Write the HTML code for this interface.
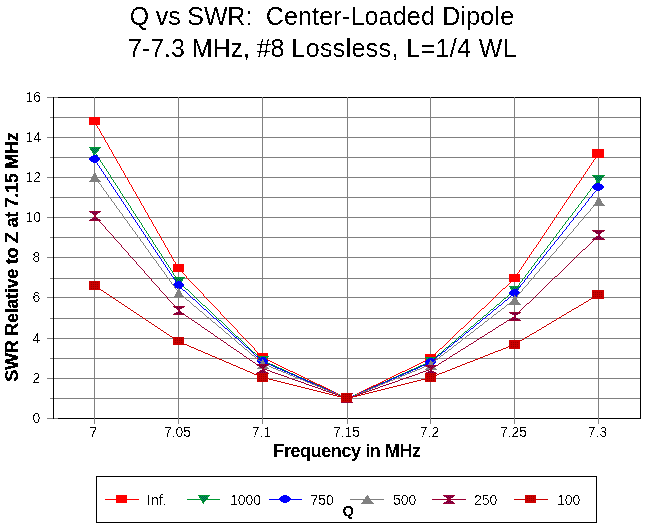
<!DOCTYPE html>
<html><head><meta charset="utf-8"><title>Q vs SWR</title>
<style>
html,body{margin:0;padding:0;background:#fff;}
body{width:645px;height:526px;position:relative;overflow:hidden;font-family:"Liberation Sans",sans-serif;color:#000;}
.t{position:absolute;white-space:pre;line-height:1;filter:url(#th);}
.title{filter:url(#th5);font-size:25px;left:0;width:645px;text-align:center;}
.tick{font-size:14px;filter:url(#th6);}
.xt{width:60px;text-align:center;top:425px;}
.yt{width:30px;text-align:right;left:11px;}
.lg{font-size:14px;top:493px;filter:url(#th6);}
</style></head><body>
<svg width="645" height="526" viewBox="0 0 645 526" shape-rendering="crispEdges" style="position:absolute;left:0;top:0"><defs><filter id="th" x="-5%" y="-25%" width="110%" height="150%" color-interpolation-filters="sRGB"><feComponentTransfer><feFuncA type="discrete" tableValues="0 0 1 1 1"/></feComponentTransfer></filter><filter id="th5" x="-5%" y="-25%" width="110%" height="150%" color-interpolation-filters="sRGB"><feComponentTransfer><feFuncA type="discrete" tableValues="0 1"/></feComponentTransfer></filter><filter id="th6" x="-5%" y="-25%" width="110%" height="150%" color-interpolation-filters="sRGB"><feComponentTransfer><feFuncA type="discrete" tableValues="0 0 0 1 1"/></feComponentTransfer></filter></defs><rect x="0" y="0" width="645" height="526" fill="#ffffff"/><rect x="53" y="398" width="587" height="1" fill="#808080"/><rect x="53" y="378" width="587" height="1" fill="#808080"/><rect x="53" y="358" width="587" height="1" fill="#808080"/><rect x="53" y="338" width="587" height="1" fill="#808080"/><rect x="53" y="318" width="587" height="1" fill="#808080"/><rect x="53" y="297" width="587" height="1" fill="#808080"/><rect x="53" y="278" width="587" height="1" fill="#808080"/><rect x="53" y="257" width="587" height="1" fill="#808080"/><rect x="53" y="237" width="587" height="1" fill="#808080"/><rect x="53" y="217" width="587" height="1" fill="#808080"/><rect x="53" y="197" width="587" height="1" fill="#808080"/><rect x="53" y="177" width="587" height="1" fill="#808080"/><rect x="53" y="157" width="587" height="1" fill="#808080"/><rect x="53" y="137" width="587" height="1" fill="#808080"/><rect x="53" y="117" width="587" height="1" fill="#808080"/><rect x="53" y="97" width="588" height="1" fill="#000"/><rect x="53" y="418" width="588" height="1" fill="#000"/><rect x="53" y="97" width="1" height="322" fill="#000"/><rect x="640" y="97" width="1" height="322" fill="#000"/><rect x="47" y="418" width="6" height="1" fill="#808080"/><rect x="54" y="418" width="4" height="1" fill="#808080"/><rect x="50" y="398" width="3" height="1" fill="#808080"/><rect x="47" y="378" width="6" height="1" fill="#808080"/><rect x="50" y="358" width="3" height="1" fill="#808080"/><rect x="47" y="338" width="6" height="1" fill="#808080"/><rect x="50" y="318" width="3" height="1" fill="#808080"/><rect x="47" y="297" width="6" height="1" fill="#808080"/><rect x="50" y="278" width="3" height="1" fill="#808080"/><rect x="47" y="257" width="6" height="1" fill="#808080"/><rect x="50" y="237" width="3" height="1" fill="#808080"/><rect x="47" y="217" width="6" height="1" fill="#808080"/><rect x="50" y="197" width="3" height="1" fill="#808080"/><rect x="47" y="177" width="6" height="1" fill="#808080"/><rect x="50" y="157" width="3" height="1" fill="#808080"/><rect x="47" y="137" width="6" height="1" fill="#808080"/><rect x="50" y="117" width="3" height="1" fill="#808080"/><rect x="47" y="97" width="6" height="1" fill="#808080"/><rect x="54" y="97" width="4" height="1" fill="#808080"/><rect x="94" y="97" width="1" height="327" fill="#808080"/><rect x="178" y="97" width="1" height="327" fill="#808080"/><rect x="262" y="97" width="1" height="327" fill="#808080"/><rect x="347" y="97" width="1" height="327" fill="#808080"/><rect x="430" y="97" width="1" height="327" fill="#808080"/><rect x="514" y="97" width="1" height="327" fill="#808080"/><rect x="598" y="97" width="1" height="327" fill="#808080"/><path d="M94 121v1h1v-1zM95 122v2h1v-2zM96 124v2h1v-2zM97 126v2h1v-2zM98 128v1h1v-1zM99 129v2h1v-2zM100 131v2h1v-2zM101 133v2h1v-2zM102 135v1h1v-1zM103 136v2h1v-2zM104 138v2h1v-2zM105 140v2h1v-2zM106 142v1h1v-1zM107 143v2h1v-2zM108 145v2h1v-2zM109 147v2h1v-2zM110 149v1h1v-1zM111 150v2h1v-2zM112 152v2h1v-2zM113 154v2h1v-2zM114 156v1h1v-1zM115 157v2h1v-2zM116 159v2h1v-2zM117 161v2h1v-2zM118 163v1h1v-1zM119 164v2h1v-2zM120 166v2h1v-2zM121 168v2h1v-2zM122 170v1h1v-1zM123 171v2h1v-2zM124 173v2h1v-2zM125 175v2h1v-2zM126 177v1h1v-1zM127 178v2h1v-2zM128 180v2h1v-2zM129 182v2h1v-2zM130 184v1h1v-1zM131 185v2h1v-2zM132 187v2h1v-2zM133 189v2h1v-2zM134 191v1h1v-1zM135 192v2h1v-2zM136 194v2h1v-2zM137 196v2h1v-2zM138 198v1h1v-1zM139 199v2h1v-2zM140 201v2h1v-2zM141 203v2h1v-2zM142 205v1h1v-1zM143 206v2h1v-2zM144 208v2h1v-2zM145 210v2h1v-2zM146 212v1h1v-1zM147 213v2h1v-2zM148 215v2h1v-2zM149 217v2h1v-2zM150 219v1h1v-1zM151 220v2h1v-2zM152 222v2h1v-2zM153 224v2h1v-2zM154 226v1h1v-1zM155 227v2h1v-2zM156 229v2h1v-2zM157 231v2h1v-2zM158 233v1h1v-1zM159 234v2h1v-2zM160 236v2h1v-2zM161 238v2h1v-2zM162 240v1h1v-1zM163 241v2h1v-2zM164 243v2h1v-2zM165 245v2h1v-2zM166 247v1h1v-1zM167 248v2h1v-2zM168 250v2h1v-2zM169 252v2h1v-2zM170 254v1h1v-1zM171 255v2h1v-2zM172 257v2h1v-2zM173 259v2h1v-2zM174 261v1h1v-1zM175 262v2h1v-2zM176 264v2h1v-2zM177 266v2h1v-2zM178 268v1h1v-1zM178 268v1h1v-1zM179 269v1h1v-1zM180 270v1h1v-1zM181 271v1h1v-1zM182 272v1h1v-1zM183 273v1h1v-1zM184 274v1h1v-1zM185 275v1h1v-1zM186 276v2h1v-2zM187 278v1h1v-1zM188 279v1h1v-1zM189 280v1h1v-1zM190 281v1h1v-1zM191 282v1h1v-1zM192 283v1h1v-1zM193 284v1h1v-1zM194 285v1h1v-1zM195 286v1h1v-1zM196 287v1h1v-1zM197 288v1h1v-1zM198 289v1h1v-1zM199 290v1h1v-1zM200 291v1h1v-1zM201 292v1h1v-1zM202 293v1h1v-1zM203 294v2h1v-2zM204 296v1h1v-1zM205 297v1h1v-1zM206 298v1h1v-1zM207 299v1h1v-1zM208 300v1h1v-1zM209 301v1h1v-1zM210 302v1h1v-1zM211 303v1h1v-1zM212 304v1h1v-1zM213 305v1h1v-1zM214 306v1h1v-1zM215 307v1h1v-1zM216 308v1h1v-1zM217 309v1h1v-1zM218 310v1h1v-1zM219 311v1h1v-1zM220 312v2h1v-2zM221 314v1h1v-1zM222 315v1h1v-1zM223 316v1h1v-1zM224 317v1h1v-1zM225 318v1h1v-1zM226 319v1h1v-1zM227 320v1h1v-1zM228 321v1h1v-1zM229 322v1h1v-1zM230 323v1h1v-1zM231 324v1h1v-1zM232 325v1h1v-1zM233 326v1h1v-1zM234 327v1h1v-1zM235 328v1h1v-1zM236 329v1h1v-1zM237 330v2h1v-2zM238 332v1h1v-1zM239 333v1h1v-1zM240 334v1h1v-1zM241 335v1h1v-1zM242 336v1h1v-1zM243 337v1h1v-1zM244 338v1h1v-1zM245 339v1h1v-1zM246 340v1h1v-1zM247 341v1h1v-1zM248 342v1h1v-1zM249 343v1h1v-1zM250 344v1h1v-1zM251 345v1h1v-1zM252 346v1h1v-1zM253 347v1h1v-1zM254 348v2h1v-2zM255 350v1h1v-1zM256 351v1h1v-1zM257 352v1h1v-1zM258 353v1h1v-1zM259 354v1h1v-1zM260 355v1h1v-1zM261 356v1h1v-1zM262 357v1h1v-1zM262 357h2v1h-2zM264 358h2v1h-2zM266 359h2v1h-2zM268 360h2v1h-2zM270 361h2v1h-2zM272 362h2v1h-2zM274 363h2v1h-2zM276 364h2v1h-2zM278 365h2v1h-2zM280 366h2v1h-2zM282 367h2v1h-2zM284 368h2v1h-2zM286 369h2v1h-2zM288 370h2v1h-2zM290 371h3v1h-3zM293 372h2v1h-2zM295 373h2v1h-2zM297 374h2v1h-2zM299 375h2v1h-2zM301 376h2v1h-2zM303 377h2v1h-2zM305 378h2v1h-2zM307 379h2v1h-2zM309 380h2v1h-2zM311 381h2v1h-2zM313 382h2v1h-2zM315 383h2v1h-2zM317 384h3v1h-3zM320 385h2v1h-2zM322 386h2v1h-2zM324 387h2v1h-2zM326 388h2v1h-2zM328 389h2v1h-2zM330 390h2v1h-2zM332 391h2v1h-2zM334 392h2v1h-2zM336 393h2v1h-2zM338 394h2v1h-2zM340 395h2v1h-2zM342 396h2v1h-2zM344 397h2v1h-2zM346 398h2v1h-2zM347 398h2v1h-2zM349 397h2v1h-2zM351 396h2v1h-2zM353 395h2v1h-2zM355 394h2v1h-2zM357 393h2v1h-2zM359 392h2v1h-2zM361 391h2v1h-2zM363 390h2v1h-2zM365 389h2v1h-2zM367 388h2v1h-2zM369 387h2v1h-2zM371 386h2v1h-2zM373 385h3v1h-3zM376 384h2v1h-2zM378 383h2v1h-2zM380 382h2v1h-2zM382 381h2v1h-2zM384 380h2v1h-2zM386 379h2v1h-2zM388 378h2v1h-2zM390 377h2v1h-2zM392 376h2v1h-2zM394 375h2v1h-2zM396 374h2v1h-2zM398 373h2v1h-2zM400 372h2v1h-2zM402 371h3v1h-3zM405 370h2v1h-2zM407 369h2v1h-2zM409 368h2v1h-2zM411 367h2v1h-2zM413 366h2v1h-2zM415 365h2v1h-2zM417 364h2v1h-2zM419 363h2v1h-2zM421 362h2v1h-2zM423 361h2v1h-2zM425 360h2v1h-2zM427 359h2v1h-2zM429 358h2v1h-2zM430 358h1v1h-1zM431 357h1v1h-1zM432 356h1v1h-1zM433 355h1v1h-1zM434 354h1v1h-1zM435 353h1v1h-1zM436 352h1v1h-1zM437 351h1v1h-1zM438 350h1v1h-1zM439 349h1v1h-1zM440 348h2v1h-2zM442 347h1v1h-1zM443 346h1v1h-1zM444 345h1v1h-1zM445 344h1v1h-1zM446 343h1v1h-1zM447 342h1v1h-1zM448 341h1v1h-1zM449 340h1v1h-1zM450 339h1v1h-1zM451 338h1v1h-1zM452 337h1v1h-1zM453 336h1v1h-1zM454 335h1v1h-1zM455 334h1v1h-1zM456 333h1v1h-1zM457 332h1v1h-1zM458 331h1v1h-1zM459 330h1v1h-1zM460 329h1v1h-1zM461 328h2v1h-2zM463 327h1v1h-1zM464 326h1v1h-1zM465 325h1v1h-1zM466 324h1v1h-1zM467 323h1v1h-1zM468 322h1v1h-1zM469 321h1v1h-1zM470 320h1v1h-1zM471 319h1v1h-1zM472 318h1v1h-1zM473 317h1v1h-1zM474 316h1v1h-1zM475 315h1v1h-1zM476 314h1v1h-1zM477 313h1v1h-1zM478 312h1v1h-1zM479 311h1v1h-1zM480 310h1v1h-1zM481 309h1v1h-1zM482 308h2v1h-2zM484 307h1v1h-1zM485 306h1v1h-1zM486 305h1v1h-1zM487 304h1v1h-1zM488 303h1v1h-1zM489 302h1v1h-1zM490 301h1v1h-1zM491 300h1v1h-1zM492 299h1v1h-1zM493 298h1v1h-1zM494 297h1v1h-1zM495 296h1v1h-1zM496 295h1v1h-1zM497 294h1v1h-1zM498 293h1v1h-1zM499 292h1v1h-1zM500 291h1v1h-1zM501 290h1v1h-1zM502 289h1v1h-1zM503 288h2v1h-2zM505 287h1v1h-1zM506 286h1v1h-1zM507 285h1v1h-1zM508 284h1v1h-1zM509 283h1v1h-1zM510 282h1v1h-1zM511 281h1v1h-1zM512 280h1v1h-1zM513 279h1v1h-1zM514 278h1v1h-1zM514 278v1h1v-1zM515 276v2h1v-2zM516 275v1h1v-1zM517 273v2h1v-2zM518 272v1h1v-1zM519 270v2h1v-2zM520 269v1h1v-1zM521 267v2h1v-2zM522 266v1h1v-1zM523 264v2h1v-2zM524 263v1h1v-1zM525 261v2h1v-2zM526 260v1h1v-1zM527 258v2h1v-2zM528 257v1h1v-1zM529 255v2h1v-2zM530 254v1h1v-1zM531 252v2h1v-2zM532 251v1h1v-1zM533 249v2h1v-2zM534 248v1h1v-1zM535 247v1h1v-1zM536 245v2h1v-2zM537 244v1h1v-1zM538 242v2h1v-2zM539 241v1h1v-1zM540 239v2h1v-2zM541 238v1h1v-1zM542 236v2h1v-2zM543 235v1h1v-1zM544 233v2h1v-2zM545 232v1h1v-1zM546 230v2h1v-2zM547 229v1h1v-1zM548 227v2h1v-2zM549 226v1h1v-1zM550 224v2h1v-2zM551 223v1h1v-1zM552 221v2h1v-2zM553 220v1h1v-1zM554 218v2h1v-2zM555 217v1h1v-1zM556 215v2h1v-2zM557 214v1h1v-1zM558 212v2h1v-2zM559 211v1h1v-1zM560 209v2h1v-2zM561 208v1h1v-1zM562 206v2h1v-2zM563 205v1h1v-1zM564 203v2h1v-2zM565 202v1h1v-1zM566 200v2h1v-2zM567 199v1h1v-1zM568 197v2h1v-2zM569 196v1h1v-1zM570 194v2h1v-2zM571 193v1h1v-1zM572 191v2h1v-2zM573 190v1h1v-1zM574 188v2h1v-2zM575 187v1h1v-1zM576 185v2h1v-2zM577 184v1h1v-1zM578 183v1h1v-1zM579 181v2h1v-2zM580 180v1h1v-1zM581 178v2h1v-2zM582 177v1h1v-1zM583 175v2h1v-2zM584 174v1h1v-1zM585 172v2h1v-2zM586 171v1h1v-1zM587 169v2h1v-2zM588 168v1h1v-1zM589 166v2h1v-2zM590 165v1h1v-1zM591 163v2h1v-2zM592 162v1h1v-1zM593 160v2h1v-2zM594 159v1h1v-1zM595 157v2h1v-2zM596 156v1h1v-1zM597 154v2h1v-2zM598 153v1h1v-1z" fill="#ff0000"/><rect x="89" y="117" width="11" height="8" fill="#ff0000"/><rect x="173" y="264" width="11" height="8" fill="#ff0000"/><rect x="257" y="353" width="11" height="8" fill="#ff0000"/><rect x="341" y="394" width="11" height="8" fill="#ff0000"/><rect x="425" y="354" width="11" height="8" fill="#ff0000"/><rect x="509" y="274" width="11" height="8" fill="#ff0000"/><rect x="592" y="149" width="12" height="9" fill="#ff0000"/><path d="M94 151v1h1v-1zM95 152v2h1v-2zM96 154v1h1v-1zM97 155v2h1v-2zM98 157v1h1v-1zM99 158v2h1v-2zM100 160v2h1v-2zM101 162v1h1v-1zM102 163v2h1v-2zM103 165v1h1v-1zM104 166v2h1v-2zM105 168v1h1v-1zM106 169v2h1v-2zM107 171v1h1v-1zM108 172v2h1v-2zM109 174v1h1v-1zM110 175v2h1v-2zM111 177v2h1v-2zM112 179v1h1v-1zM113 180v2h1v-2zM114 182v1h1v-1zM115 183v2h1v-2zM116 185v1h1v-1zM117 186v2h1v-2zM118 188v1h1v-1zM119 189v2h1v-2zM120 191v2h1v-2zM121 193v1h1v-1zM122 194v2h1v-2zM123 196v1h1v-1zM124 197v2h1v-2zM125 199v1h1v-1zM126 200v2h1v-2zM127 202v1h1v-1zM128 203v2h1v-2zM129 205v1h1v-1zM130 206v2h1v-2zM131 208v2h1v-2zM132 210v1h1v-1zM133 211v2h1v-2zM134 213v1h1v-1zM135 214v2h1v-2zM136 216v1h1v-1zM137 217v2h1v-2zM138 219v1h1v-1zM139 220v2h1v-2zM140 222v1h1v-1zM141 223v2h1v-2zM142 225v2h1v-2zM143 227v1h1v-1zM144 228v2h1v-2zM145 230v1h1v-1zM146 231v2h1v-2zM147 233v1h1v-1zM148 234v2h1v-2zM149 236v1h1v-1zM150 237v2h1v-2zM151 239v1h1v-1zM152 240v2h1v-2zM153 242v2h1v-2zM154 244v1h1v-1zM155 245v2h1v-2zM156 247v1h1v-1zM157 248v2h1v-2zM158 250v1h1v-1zM159 251v2h1v-2zM160 253v1h1v-1zM161 254v2h1v-2zM162 256v2h1v-2zM163 258v1h1v-1zM164 259v2h1v-2zM165 261v1h1v-1zM166 262v2h1v-2zM167 264v1h1v-1zM168 265v2h1v-2zM169 267v1h1v-1zM170 268v2h1v-2zM171 270v1h1v-1zM172 271v2h1v-2zM173 273v2h1v-2zM174 275v1h1v-1zM175 276v2h1v-2zM176 278v1h1v-1zM177 279v2h1v-2zM178 281v1h1v-1zM178 281h1v1h-1zM179 282h1v1h-1zM180 283h1v1h-1zM181 284h1v1h-1zM182 285h1v1h-1zM183 286h1v1h-1zM184 287h1v1h-1zM185 288h1v1h-1zM186 289h2v1h-2zM188 290h1v1h-1zM189 291h1v1h-1zM190 292h1v1h-1zM191 293h1v1h-1zM192 294h1v1h-1zM193 295h1v1h-1zM194 296h1v1h-1zM195 297h1v1h-1zM196 298h1v1h-1zM197 299h1v1h-1zM198 300h1v1h-1zM199 301h1v1h-1zM200 302h1v1h-1zM201 303h1v1h-1zM202 304h1v1h-1zM203 305h2v1h-2zM205 306h1v1h-1zM206 307h1v1h-1zM207 308h1v1h-1zM208 309h1v1h-1zM209 310h1v1h-1zM210 311h1v1h-1zM211 312h1v1h-1zM212 313h1v1h-1zM213 314h1v1h-1zM214 315h1v1h-1zM215 316h1v1h-1zM216 317h1v1h-1zM217 318h1v1h-1zM218 319h1v1h-1zM219 320h2v1h-2zM221 321h1v1h-1zM222 322h1v1h-1zM223 323h1v1h-1zM224 324h1v1h-1zM225 325h1v1h-1zM226 326h1v1h-1zM227 327h1v1h-1zM228 328h1v1h-1zM229 329h1v1h-1zM230 330h1v1h-1zM231 331h1v1h-1zM232 332h1v1h-1zM233 333h1v1h-1zM234 334h1v1h-1zM235 335h1v1h-1zM236 336h2v1h-2zM238 337h1v1h-1zM239 338h1v1h-1zM240 339h1v1h-1zM241 340h1v1h-1zM242 341h1v1h-1zM243 342h1v1h-1zM244 343h1v1h-1zM245 344h1v1h-1zM246 345h1v1h-1zM247 346h1v1h-1zM248 347h1v1h-1zM249 348h1v1h-1zM250 349h1v1h-1zM251 350h1v1h-1zM252 351h1v1h-1zM253 352h2v1h-2zM255 353h1v1h-1zM256 354h1v1h-1zM257 355h1v1h-1zM258 356h1v1h-1zM259 357h1v1h-1zM260 358h1v1h-1zM261 359h1v1h-1zM262 360h1v1h-1zM262 360h2v1h-2zM264 361h2v1h-2zM266 362h2v1h-2zM268 363h2v1h-2zM270 364h3v1h-3zM273 365h2v1h-2zM275 366h2v1h-2zM277 367h2v1h-2zM279 368h3v1h-3zM282 369h2v1h-2zM284 370h2v1h-2zM286 371h2v1h-2zM288 372h2v1h-2zM290 373h3v1h-3zM293 374h2v1h-2zM295 375h2v1h-2zM297 376h2v1h-2zM299 377h3v1h-3zM302 378h2v1h-2zM304 379h2v1h-2zM306 380h2v1h-2zM308 381h3v1h-3zM311 382h2v1h-2zM313 383h2v1h-2zM315 384h2v1h-2zM317 385h3v1h-3zM320 386h2v1h-2zM322 387h2v1h-2zM324 388h2v1h-2zM326 389h2v1h-2zM328 390h3v1h-3zM331 391h2v1h-2zM333 392h2v1h-2zM335 393h2v1h-2zM337 394h3v1h-3zM340 395h2v1h-2zM342 396h2v1h-2zM344 397h2v1h-2zM346 398h2v1h-2zM347 398h2v1h-2zM349 397h2v1h-2zM351 396h2v1h-2zM353 395h2v1h-2zM355 394h3v1h-3zM358 393h2v1h-2zM360 392h2v1h-2zM362 391h2v1h-2zM364 390h3v1h-3zM367 389h2v1h-2zM369 388h2v1h-2zM371 387h2v1h-2zM373 386h3v1h-3zM376 385h2v1h-2zM378 384h2v1h-2zM380 383h2v1h-2zM382 382h3v1h-3zM385 381h2v1h-2zM387 380h2v1h-2zM389 379h2v1h-2zM391 378h2v1h-2zM393 377h3v1h-3zM396 376h2v1h-2zM398 375h2v1h-2zM400 374h2v1h-2zM402 373h3v1h-3zM405 372h2v1h-2zM407 371h2v1h-2zM409 370h2v1h-2zM411 369h3v1h-3zM414 368h2v1h-2zM416 367h2v1h-2zM418 366h2v1h-2zM420 365h3v1h-3zM423 364h2v1h-2zM425 363h2v1h-2zM427 362h2v1h-2zM429 361h2v1h-2zM430 361h1v1h-1zM431 360h1v1h-1zM432 359h1v1h-1zM433 358h2v1h-2zM435 357h1v1h-1zM436 356h1v1h-1zM437 355h1v1h-1zM438 354h1v1h-1zM439 353h2v1h-2zM441 352h1v1h-1zM442 351h1v1h-1zM443 350h1v1h-1zM444 349h1v1h-1zM445 348h1v1h-1zM446 347h2v1h-2zM448 346h1v1h-1zM449 345h1v1h-1zM450 344h1v1h-1zM451 343h1v1h-1zM452 342h2v1h-2zM454 341h1v1h-1zM455 340h1v1h-1zM456 339h1v1h-1zM457 338h1v1h-1zM458 337h1v1h-1zM459 336h2v1h-2zM461 335h1v1h-1zM462 334h1v1h-1zM463 333h1v1h-1zM464 332h1v1h-1zM465 331h2v1h-2zM467 330h1v1h-1zM468 329h1v1h-1zM469 328h1v1h-1zM470 327h1v1h-1zM471 326h2v1h-2zM473 325h1v1h-1zM474 324h1v1h-1zM475 323h1v1h-1zM476 322h1v1h-1zM477 321h1v1h-1zM478 320h2v1h-2zM480 319h1v1h-1zM481 318h1v1h-1zM482 317h1v1h-1zM483 316h1v1h-1zM484 315h2v1h-2zM486 314h1v1h-1zM487 313h1v1h-1zM488 312h1v1h-1zM489 311h1v1h-1zM490 310h1v1h-1zM491 309h2v1h-2zM493 308h1v1h-1zM494 307h1v1h-1zM495 306h1v1h-1zM496 305h1v1h-1zM497 304h2v1h-2zM499 303h1v1h-1zM500 302h1v1h-1zM501 301h1v1h-1zM502 300h1v1h-1zM503 299h1v1h-1zM504 298h2v1h-2zM506 297h1v1h-1zM507 296h1v1h-1zM508 295h1v1h-1zM509 294h1v1h-1zM510 293h2v1h-2zM512 292h1v1h-1zM513 291h1v1h-1zM514 290h1v1h-1zM514 290v1h1v-1zM515 289v1h1v-1zM516 287v2h1v-2zM517 286v1h1v-1zM518 285v1h1v-1zM519 283v2h1v-2zM520 282v1h1v-1zM521 281v1h1v-1zM522 279v2h1v-2zM523 278v1h1v-1zM524 277v1h1v-1zM525 275v2h1v-2zM526 274v1h1v-1zM527 273v1h1v-1zM528 271v2h1v-2zM529 270v1h1v-1zM530 269v1h1v-1zM531 267v2h1v-2zM532 266v1h1v-1zM533 265v1h1v-1zM534 263v2h1v-2zM535 262v1h1v-1zM536 261v1h1v-1zM537 259v2h1v-2zM538 258v1h1v-1zM539 257v1h1v-1zM540 255v2h1v-2zM541 254v1h1v-1zM542 253v1h1v-1zM543 252v1h1v-1zM544 250v2h1v-2zM545 249v1h1v-1zM546 248v1h1v-1zM547 246v2h1v-2zM548 245v1h1v-1zM549 244v1h1v-1zM550 242v2h1v-2zM551 241v1h1v-1zM552 240v1h1v-1zM553 238v2h1v-2zM554 237v1h1v-1zM555 236v1h1v-1zM556 234v2h1v-2zM557 233v1h1v-1zM558 232v1h1v-1zM559 230v2h1v-2zM560 229v1h1v-1zM561 228v1h1v-1zM562 226v2h1v-2zM563 225v1h1v-1zM564 224v1h1v-1zM565 222v2h1v-2zM566 221v1h1v-1zM567 220v1h1v-1zM568 218v2h1v-2zM569 217v1h1v-1zM570 216v1h1v-1zM571 215v1h1v-1zM572 213v2h1v-2zM573 212v1h1v-1zM574 211v1h1v-1zM575 209v2h1v-2zM576 208v1h1v-1zM577 207v1h1v-1zM578 205v2h1v-2zM579 204v1h1v-1zM580 203v1h1v-1zM581 201v2h1v-2zM582 200v1h1v-1zM583 199v1h1v-1zM584 197v2h1v-2zM585 196v1h1v-1zM586 195v1h1v-1zM587 193v2h1v-2zM588 192v1h1v-1zM589 191v1h1v-1zM590 189v2h1v-2zM591 188v1h1v-1zM592 187v1h1v-1zM593 185v2h1v-2zM594 184v1h1v-1zM595 183v1h1v-1zM596 181v2h1v-2zM597 180v1h1v-1zM598 179v1h1v-1z" fill="#009933"/><rect x="89" y="147" width="12" height="1" fill="#009933"/><rect x="90" y="148" width="10" height="1" fill="#009933"/><rect x="90" y="149" width="9" height="1" fill="#009933"/><rect x="91" y="150" width="8" height="1" fill="#009933"/><rect x="92" y="151" width="6" height="1" fill="#009933"/><rect x="92" y="152" width="5" height="1" fill="#009933"/><rect x="93" y="153" width="3" height="1" fill="#009933"/><rect x="93" y="154" width="2" height="1" fill="#009933"/><rect x="94" y="155" width="1" height="1" fill="#009933"/><rect x="91" y="148" width="1" height="1" fill="#009966"/><rect x="92" y="148" width="1" height="1" fill="#006633"/><rect x="93" y="148" width="1" height="1" fill="#009966"/><rect x="94" y="148" width="1" height="1" fill="#006633"/><rect x="95" y="148" width="1" height="1" fill="#009966"/><rect x="96" y="148" width="1" height="1" fill="#006633"/><rect x="97" y="148" width="1" height="1" fill="#009966"/><rect x="98" y="148" width="1" height="1" fill="#006633"/><rect x="91" y="149" width="1" height="1" fill="#006633"/><rect x="92" y="149" width="1" height="1" fill="#009966"/><rect x="93" y="149" width="1" height="1" fill="#006633"/><rect x="94" y="149" width="1" height="1" fill="#009966"/><rect x="95" y="149" width="1" height="1" fill="#006633"/><rect x="96" y="149" width="1" height="1" fill="#009966"/><rect x="97" y="149" width="1" height="1" fill="#006633"/><rect x="92" y="150" width="1" height="1" fill="#006633"/><rect x="93" y="150" width="1" height="1" fill="#009966"/><rect x="94" y="150" width="1" height="1" fill="#006633"/><rect x="95" y="150" width="1" height="1" fill="#009966"/><rect x="96" y="150" width="1" height="1" fill="#006633"/><rect x="97" y="150" width="1" height="1" fill="#009966"/><rect x="93" y="151" width="1" height="1" fill="#006633"/><rect x="94" y="151" width="1" height="1" fill="#009966"/><rect x="95" y="151" width="1" height="1" fill="#006633"/><rect x="96" y="151" width="1" height="1" fill="#009966"/><rect x="93" y="152" width="1" height="1" fill="#009966"/><rect x="94" y="152" width="1" height="1" fill="#006633"/><rect x="95" y="152" width="1" height="1" fill="#009966"/><rect x="94" y="153" width="1" height="1" fill="#009966"/><rect x="173" y="277" width="12" height="1" fill="#009933"/><rect x="174" y="278" width="10" height="1" fill="#009933"/><rect x="174" y="279" width="9" height="1" fill="#009933"/><rect x="175" y="280" width="8" height="1" fill="#009933"/><rect x="176" y="281" width="6" height="1" fill="#009933"/><rect x="176" y="282" width="5" height="1" fill="#009933"/><rect x="177" y="283" width="3" height="1" fill="#009933"/><rect x="177" y="284" width="2" height="1" fill="#009933"/><rect x="178" y="285" width="1" height="1" fill="#009933"/><rect x="175" y="278" width="1" height="1" fill="#009966"/><rect x="176" y="278" width="1" height="1" fill="#006633"/><rect x="177" y="278" width="1" height="1" fill="#009966"/><rect x="178" y="278" width="1" height="1" fill="#006633"/><rect x="179" y="278" width="1" height="1" fill="#009966"/><rect x="180" y="278" width="1" height="1" fill="#006633"/><rect x="181" y="278" width="1" height="1" fill="#009966"/><rect x="182" y="278" width="1" height="1" fill="#006633"/><rect x="175" y="279" width="1" height="1" fill="#006633"/><rect x="176" y="279" width="1" height="1" fill="#009966"/><rect x="177" y="279" width="1" height="1" fill="#006633"/><rect x="178" y="279" width="1" height="1" fill="#009966"/><rect x="179" y="279" width="1" height="1" fill="#006633"/><rect x="180" y="279" width="1" height="1" fill="#009966"/><rect x="181" y="279" width="1" height="1" fill="#006633"/><rect x="176" y="280" width="1" height="1" fill="#006633"/><rect x="177" y="280" width="1" height="1" fill="#009966"/><rect x="178" y="280" width="1" height="1" fill="#006633"/><rect x="179" y="280" width="1" height="1" fill="#009966"/><rect x="180" y="280" width="1" height="1" fill="#006633"/><rect x="181" y="280" width="1" height="1" fill="#009966"/><rect x="177" y="281" width="1" height="1" fill="#006633"/><rect x="178" y="281" width="1" height="1" fill="#009966"/><rect x="179" y="281" width="1" height="1" fill="#006633"/><rect x="180" y="281" width="1" height="1" fill="#009966"/><rect x="177" y="282" width="1" height="1" fill="#009966"/><rect x="178" y="282" width="1" height="1" fill="#006633"/><rect x="179" y="282" width="1" height="1" fill="#009966"/><rect x="178" y="283" width="1" height="1" fill="#009966"/><rect x="257" y="356" width="12" height="1" fill="#009933"/><rect x="258" y="357" width="10" height="1" fill="#009933"/><rect x="258" y="358" width="9" height="1" fill="#009933"/><rect x="259" y="359" width="8" height="1" fill="#009933"/><rect x="260" y="360" width="6" height="1" fill="#009933"/><rect x="260" y="361" width="5" height="1" fill="#009933"/><rect x="261" y="362" width="3" height="1" fill="#009933"/><rect x="261" y="363" width="2" height="1" fill="#009933"/><rect x="262" y="364" width="1" height="1" fill="#009933"/><rect x="259" y="357" width="1" height="1" fill="#006633"/><rect x="260" y="357" width="1" height="1" fill="#009966"/><rect x="261" y="357" width="1" height="1" fill="#006633"/><rect x="262" y="357" width="1" height="1" fill="#009966"/><rect x="263" y="357" width="1" height="1" fill="#006633"/><rect x="264" y="357" width="1" height="1" fill="#009966"/><rect x="265" y="357" width="1" height="1" fill="#006633"/><rect x="266" y="357" width="1" height="1" fill="#009966"/><rect x="259" y="358" width="1" height="1" fill="#009966"/><rect x="260" y="358" width="1" height="1" fill="#006633"/><rect x="261" y="358" width="1" height="1" fill="#009966"/><rect x="262" y="358" width="1" height="1" fill="#006633"/><rect x="263" y="358" width="1" height="1" fill="#009966"/><rect x="264" y="358" width="1" height="1" fill="#006633"/><rect x="265" y="358" width="1" height="1" fill="#009966"/><rect x="260" y="359" width="1" height="1" fill="#009966"/><rect x="261" y="359" width="1" height="1" fill="#006633"/><rect x="262" y="359" width="1" height="1" fill="#009966"/><rect x="263" y="359" width="1" height="1" fill="#006633"/><rect x="264" y="359" width="1" height="1" fill="#009966"/><rect x="265" y="359" width="1" height="1" fill="#006633"/><rect x="261" y="360" width="1" height="1" fill="#009966"/><rect x="262" y="360" width="1" height="1" fill="#006633"/><rect x="263" y="360" width="1" height="1" fill="#009966"/><rect x="264" y="360" width="1" height="1" fill="#006633"/><rect x="261" y="361" width="1" height="1" fill="#006633"/><rect x="262" y="361" width="1" height="1" fill="#009966"/><rect x="263" y="361" width="1" height="1" fill="#006633"/><rect x="262" y="362" width="1" height="1" fill="#006633"/><rect x="425" y="357" width="12" height="1" fill="#009933"/><rect x="426" y="358" width="10" height="1" fill="#009933"/><rect x="426" y="359" width="9" height="1" fill="#009933"/><rect x="427" y="360" width="8" height="1" fill="#009933"/><rect x="428" y="361" width="6" height="1" fill="#009933"/><rect x="428" y="362" width="5" height="1" fill="#009933"/><rect x="429" y="363" width="3" height="1" fill="#009933"/><rect x="429" y="364" width="2" height="1" fill="#009933"/><rect x="430" y="365" width="1" height="1" fill="#009933"/><rect x="427" y="358" width="1" height="1" fill="#009966"/><rect x="428" y="358" width="1" height="1" fill="#006633"/><rect x="429" y="358" width="1" height="1" fill="#009966"/><rect x="430" y="358" width="1" height="1" fill="#006633"/><rect x="431" y="358" width="1" height="1" fill="#009966"/><rect x="432" y="358" width="1" height="1" fill="#006633"/><rect x="433" y="358" width="1" height="1" fill="#009966"/><rect x="434" y="358" width="1" height="1" fill="#006633"/><rect x="427" y="359" width="1" height="1" fill="#006633"/><rect x="428" y="359" width="1" height="1" fill="#009966"/><rect x="429" y="359" width="1" height="1" fill="#006633"/><rect x="430" y="359" width="1" height="1" fill="#009966"/><rect x="431" y="359" width="1" height="1" fill="#006633"/><rect x="432" y="359" width="1" height="1" fill="#009966"/><rect x="433" y="359" width="1" height="1" fill="#006633"/><rect x="428" y="360" width="1" height="1" fill="#006633"/><rect x="429" y="360" width="1" height="1" fill="#009966"/><rect x="430" y="360" width="1" height="1" fill="#006633"/><rect x="431" y="360" width="1" height="1" fill="#009966"/><rect x="432" y="360" width="1" height="1" fill="#006633"/><rect x="433" y="360" width="1" height="1" fill="#009966"/><rect x="429" y="361" width="1" height="1" fill="#006633"/><rect x="430" y="361" width="1" height="1" fill="#009966"/><rect x="431" y="361" width="1" height="1" fill="#006633"/><rect x="432" y="361" width="1" height="1" fill="#009966"/><rect x="429" y="362" width="1" height="1" fill="#009966"/><rect x="430" y="362" width="1" height="1" fill="#006633"/><rect x="431" y="362" width="1" height="1" fill="#009966"/><rect x="430" y="363" width="1" height="1" fill="#009966"/><rect x="509" y="286" width="12" height="1" fill="#009933"/><rect x="510" y="287" width="10" height="1" fill="#009933"/><rect x="510" y="288" width="9" height="1" fill="#009933"/><rect x="511" y="289" width="8" height="1" fill="#009933"/><rect x="512" y="290" width="6" height="1" fill="#009933"/><rect x="512" y="291" width="5" height="1" fill="#009933"/><rect x="513" y="292" width="3" height="1" fill="#009933"/><rect x="513" y="293" width="2" height="1" fill="#009933"/><rect x="514" y="294" width="1" height="1" fill="#009933"/><rect x="511" y="287" width="1" height="1" fill="#006633"/><rect x="512" y="287" width="1" height="1" fill="#009966"/><rect x="513" y="287" width="1" height="1" fill="#006633"/><rect x="514" y="287" width="1" height="1" fill="#009966"/><rect x="515" y="287" width="1" height="1" fill="#006633"/><rect x="516" y="287" width="1" height="1" fill="#009966"/><rect x="517" y="287" width="1" height="1" fill="#006633"/><rect x="518" y="287" width="1" height="1" fill="#009966"/><rect x="511" y="288" width="1" height="1" fill="#009966"/><rect x="512" y="288" width="1" height="1" fill="#006633"/><rect x="513" y="288" width="1" height="1" fill="#009966"/><rect x="514" y="288" width="1" height="1" fill="#006633"/><rect x="515" y="288" width="1" height="1" fill="#009966"/><rect x="516" y="288" width="1" height="1" fill="#006633"/><rect x="517" y="288" width="1" height="1" fill="#009966"/><rect x="512" y="289" width="1" height="1" fill="#009966"/><rect x="513" y="289" width="1" height="1" fill="#006633"/><rect x="514" y="289" width="1" height="1" fill="#009966"/><rect x="515" y="289" width="1" height="1" fill="#006633"/><rect x="516" y="289" width="1" height="1" fill="#009966"/><rect x="517" y="289" width="1" height="1" fill="#006633"/><rect x="513" y="290" width="1" height="1" fill="#009966"/><rect x="514" y="290" width="1" height="1" fill="#006633"/><rect x="515" y="290" width="1" height="1" fill="#009966"/><rect x="516" y="290" width="1" height="1" fill="#006633"/><rect x="513" y="291" width="1" height="1" fill="#006633"/><rect x="514" y="291" width="1" height="1" fill="#009966"/><rect x="515" y="291" width="1" height="1" fill="#006633"/><rect x="514" y="292" width="1" height="1" fill="#006633"/><rect x="592" y="175" width="13" height="1" fill="#009933"/><rect x="593" y="176" width="11" height="1" fill="#009933"/><rect x="594" y="177" width="9" height="1" fill="#009933"/><rect x="595" y="178" width="7" height="1" fill="#009933"/><rect x="595" y="179" width="7" height="1" fill="#009933"/><rect x="596" y="180" width="5" height="1" fill="#009933"/><rect x="597" y="181" width="3" height="1" fill="#009933"/><rect x="597" y="182" width="3" height="1" fill="#009933"/><rect x="598" y="183" width="1" height="1" fill="#009933"/><rect x="594" y="176" width="1" height="1" fill="#006633"/><rect x="595" y="176" width="1" height="1" fill="#009966"/><rect x="596" y="176" width="1" height="1" fill="#006633"/><rect x="597" y="176" width="1" height="1" fill="#009966"/><rect x="598" y="176" width="1" height="1" fill="#006633"/><rect x="599" y="176" width="1" height="1" fill="#009966"/><rect x="600" y="176" width="1" height="1" fill="#006633"/><rect x="601" y="176" width="1" height="1" fill="#009966"/><rect x="602" y="176" width="1" height="1" fill="#006633"/><rect x="595" y="177" width="1" height="1" fill="#006633"/><rect x="596" y="177" width="1" height="1" fill="#009966"/><rect x="597" y="177" width="1" height="1" fill="#006633"/><rect x="598" y="177" width="1" height="1" fill="#009966"/><rect x="599" y="177" width="1" height="1" fill="#006633"/><rect x="600" y="177" width="1" height="1" fill="#009966"/><rect x="601" y="177" width="1" height="1" fill="#006633"/><rect x="596" y="178" width="1" height="1" fill="#006633"/><rect x="597" y="178" width="1" height="1" fill="#009966"/><rect x="598" y="178" width="1" height="1" fill="#006633"/><rect x="599" y="178" width="1" height="1" fill="#009966"/><rect x="600" y="178" width="1" height="1" fill="#006633"/><rect x="596" y="179" width="1" height="1" fill="#009966"/><rect x="597" y="179" width="1" height="1" fill="#006633"/><rect x="598" y="179" width="1" height="1" fill="#009966"/><rect x="599" y="179" width="1" height="1" fill="#006633"/><rect x="600" y="179" width="1" height="1" fill="#009966"/><rect x="597" y="180" width="1" height="1" fill="#009966"/><rect x="598" y="180" width="1" height="1" fill="#006633"/><rect x="599" y="180" width="1" height="1" fill="#009966"/><rect x="598" y="181" width="1" height="1" fill="#009966"/><rect x="598" y="182" width="1" height="1" fill="#006633"/><path d="M94 159v1h1v-1zM95 160v2h1v-2zM96 162v1h1v-1zM97 163v2h1v-2zM98 165v1h1v-1zM99 166v2h1v-2zM100 168v1h1v-1zM101 169v2h1v-2zM102 171v1h1v-1zM103 172v2h1v-2zM104 174v1h1v-1zM105 175v2h1v-2zM106 177v1h1v-1zM107 178v2h1v-2zM108 180v1h1v-1zM109 181v2h1v-2zM110 183v1h1v-1zM111 184v2h1v-2zM112 186v1h1v-1zM113 187v2h1v-2zM114 189v1h1v-1zM115 190v2h1v-2zM116 192v1h1v-1zM117 193v2h1v-2zM118 195v1h1v-1zM119 196v2h1v-2zM120 198v1h1v-1zM121 199v2h1v-2zM122 201v1h1v-1zM123 202v2h1v-2zM124 204v1h1v-1zM125 205v2h1v-2zM126 207v1h1v-1zM127 208v2h1v-2zM128 210v1h1v-1zM129 211v2h1v-2zM130 213v1h1v-1zM131 214v2h1v-2zM132 216v1h1v-1zM133 217v2h1v-2zM134 219v1h1v-1zM135 220v2h1v-2zM136 222v1h1v-1zM137 223v2h1v-2zM138 225v1h1v-1zM139 226v2h1v-2zM140 228v1h1v-1zM141 229v2h1v-2zM142 231v1h1v-1zM143 232v2h1v-2zM144 234v1h1v-1zM145 235v2h1v-2zM146 237v1h1v-1zM147 238v2h1v-2zM148 240v1h1v-1zM149 241v2h1v-2zM150 243v1h1v-1zM151 244v2h1v-2zM152 246v1h1v-1zM153 247v2h1v-2zM154 249v1h1v-1zM155 250v2h1v-2zM156 252v1h1v-1zM157 253v2h1v-2zM158 255v1h1v-1zM159 256v2h1v-2zM160 258v1h1v-1zM161 259v2h1v-2zM162 261v1h1v-1zM163 262v2h1v-2zM164 264v1h1v-1zM165 265v2h1v-2zM166 267v1h1v-1zM167 268v2h1v-2zM168 270v1h1v-1zM169 271v2h1v-2zM170 273v1h1v-1zM171 274v2h1v-2zM172 276v1h1v-1zM173 277v2h1v-2zM174 279v1h1v-1zM175 280v2h1v-2zM176 282v1h1v-1zM177 283v2h1v-2zM178 285v1h1v-1zM178 285h1v1h-1zM179 286h1v1h-1zM180 287h1v1h-1zM181 288h1v1h-1zM182 289h1v1h-1zM183 290h2v1h-2zM185 291h1v1h-1zM186 292h1v1h-1zM187 293h1v1h-1zM188 294h1v1h-1zM189 295h1v1h-1zM190 296h1v1h-1zM191 297h1v1h-1zM192 298h1v1h-1zM193 299h2v1h-2zM195 300h1v1h-1zM196 301h1v1h-1zM197 302h1v1h-1zM198 303h1v1h-1zM199 304h1v1h-1zM200 305h1v1h-1zM201 306h1v1h-1zM202 307h1v1h-1zM203 308h1v1h-1zM204 309h2v1h-2zM206 310h1v1h-1zM207 311h1v1h-1zM208 312h1v1h-1zM209 313h1v1h-1zM210 314h1v1h-1zM211 315h1v1h-1zM212 316h1v1h-1zM213 317h1v1h-1zM214 318h2v1h-2zM216 319h1v1h-1zM217 320h1v1h-1zM218 321h1v1h-1zM219 322h1v1h-1zM220 323h1v1h-1zM221 324h1v1h-1zM222 325h1v1h-1zM223 326h1v1h-1zM224 327h1v1h-1zM225 328h2v1h-2zM227 329h1v1h-1zM228 330h1v1h-1zM229 331h1v1h-1zM230 332h1v1h-1zM231 333h1v1h-1zM232 334h1v1h-1zM233 335h1v1h-1zM234 336h1v1h-1zM235 337h2v1h-2zM237 338h1v1h-1zM238 339h1v1h-1zM239 340h1v1h-1zM240 341h1v1h-1zM241 342h1v1h-1zM242 343h1v1h-1zM243 344h1v1h-1zM244 345h1v1h-1zM245 346h1v1h-1zM246 347h2v1h-2zM248 348h1v1h-1zM249 349h1v1h-1zM250 350h1v1h-1zM251 351h1v1h-1zM252 352h1v1h-1zM253 353h1v1h-1zM254 354h1v1h-1zM255 355h1v1h-1zM256 356h2v1h-2zM258 357h1v1h-1zM259 358h1v1h-1zM260 359h1v1h-1zM261 360h1v1h-1zM262 361h1v1h-1zM262 361h2v1h-2zM264 362h2v1h-2zM266 363h2v1h-2zM268 364h3v1h-3zM271 365h2v1h-2zM273 366h2v1h-2zM275 367h2v1h-2zM277 368h3v1h-3zM280 369h2v1h-2zM282 370h2v1h-2zM284 371h3v1h-3zM287 372h2v1h-2zM289 373h2v1h-2zM291 374h3v1h-3zM294 375h2v1h-2zM296 376h2v1h-2zM298 377h2v1h-2zM300 378h3v1h-3zM303 379h2v1h-2zM305 380h2v1h-2zM307 381h3v1h-3zM310 382h2v1h-2zM312 383h2v1h-2zM314 384h2v1h-2zM316 385h3v1h-3zM319 386h2v1h-2zM321 387h2v1h-2zM323 388h3v1h-3zM326 389h2v1h-2zM328 390h2v1h-2zM330 391h3v1h-3zM333 392h2v1h-2zM335 393h2v1h-2zM337 394h2v1h-2zM339 395h3v1h-3zM342 396h2v1h-2zM344 397h2v1h-2zM346 398h2v1h-2zM347 398h2v1h-2zM349 397h2v1h-2zM351 396h2v1h-2zM353 395h3v1h-3zM356 394h2v1h-2zM358 393h2v1h-2zM360 392h2v1h-2zM362 391h3v1h-3zM365 390h2v1h-2zM367 389h2v1h-2zM369 388h3v1h-3zM372 387h2v1h-2zM374 386h2v1h-2zM376 385h3v1h-3zM379 384h2v1h-2zM381 383h2v1h-2zM383 382h3v1h-3zM386 381h2v1h-2zM388 380h2v1h-2zM390 379h2v1h-2zM392 378h3v1h-3zM395 377h2v1h-2zM397 376h2v1h-2zM399 375h3v1h-3zM402 374h2v1h-2zM404 373h2v1h-2zM406 372h3v1h-3zM409 371h2v1h-2zM411 370h2v1h-2zM413 369h3v1h-3zM416 368h2v1h-2zM418 367h2v1h-2zM420 366h2v1h-2zM422 365h3v1h-3zM425 364h2v1h-2zM427 363h2v1h-2zM429 362h2v1h-2zM430 362h1v1h-1zM431 361h1v1h-1zM432 360h2v1h-2zM434 359h1v1h-1zM435 358h1v1h-1zM436 357h1v1h-1zM437 356h1v1h-1zM438 355h2v1h-2zM440 354h1v1h-1zM441 353h1v1h-1zM442 352h1v1h-1zM443 351h2v1h-2zM445 350h1v1h-1zM446 349h1v1h-1zM447 348h1v1h-1zM448 347h1v1h-1zM449 346h2v1h-2zM451 345h1v1h-1zM452 344h1v1h-1zM453 343h1v1h-1zM454 342h1v1h-1zM455 341h2v1h-2zM457 340h1v1h-1zM458 339h1v1h-1zM459 338h1v1h-1zM460 337h2v1h-2zM462 336h1v1h-1zM463 335h1v1h-1zM464 334h1v1h-1zM465 333h1v1h-1zM466 332h2v1h-2zM468 331h1v1h-1zM469 330h1v1h-1zM470 329h1v1h-1zM471 328h2v1h-2zM473 327h1v1h-1zM474 326h1v1h-1zM475 325h1v1h-1zM476 324h1v1h-1zM477 323h2v1h-2zM479 322h1v1h-1zM480 321h1v1h-1zM481 320h1v1h-1zM482 319h1v1h-1zM483 318h2v1h-2zM485 317h1v1h-1zM486 316h1v1h-1zM487 315h1v1h-1zM488 314h2v1h-2zM490 313h1v1h-1zM491 312h1v1h-1zM492 311h1v1h-1zM493 310h1v1h-1zM494 309h2v1h-2zM496 308h1v1h-1zM497 307h1v1h-1zM498 306h1v1h-1zM499 305h2v1h-2zM501 304h1v1h-1zM502 303h1v1h-1zM503 302h1v1h-1zM504 301h1v1h-1zM505 300h2v1h-2zM507 299h1v1h-1zM508 298h1v1h-1zM509 297h1v1h-1zM510 296h1v1h-1zM511 295h2v1h-2zM513 294h1v1h-1zM514 293h1v1h-1zM514 293v1h1v-1zM515 292v1h1v-1zM516 290v2h1v-2zM517 289v1h1v-1zM518 288v1h1v-1zM519 287v1h1v-1zM520 285v2h1v-2zM521 284v1h1v-1zM522 283v1h1v-1zM523 282v1h1v-1zM524 280v2h1v-2zM525 279v1h1v-1zM526 278v1h1v-1zM527 276v2h1v-2zM528 275v1h1v-1zM529 274v1h1v-1zM530 273v1h1v-1zM531 271v2h1v-2zM532 270v1h1v-1zM533 269v1h1v-1zM534 268v1h1v-1zM535 266v2h1v-2zM536 265v1h1v-1zM537 264v1h1v-1zM538 263v1h1v-1zM539 261v2h1v-2zM540 260v1h1v-1zM541 259v1h1v-1zM542 258v1h1v-1zM543 256v2h1v-2zM544 255v1h1v-1zM545 254v1h1v-1zM546 252v2h1v-2zM547 251v1h1v-1zM548 250v1h1v-1zM549 249v1h1v-1zM550 247v2h1v-2zM551 246v1h1v-1zM552 245v1h1v-1zM553 244v1h1v-1zM554 242v2h1v-2zM555 241v1h1v-1zM556 240v1h1v-1zM557 239v1h1v-1zM558 237v2h1v-2zM559 236v1h1v-1zM560 235v1h1v-1zM561 234v1h1v-1zM562 232v2h1v-2zM563 231v1h1v-1zM564 230v1h1v-1zM565 229v1h1v-1zM566 227v2h1v-2zM567 226v1h1v-1zM568 225v1h1v-1zM569 223v2h1v-2zM570 222v1h1v-1zM571 221v1h1v-1zM572 220v1h1v-1zM573 218v2h1v-2zM574 217v1h1v-1zM575 216v1h1v-1zM576 215v1h1v-1zM577 213v2h1v-2zM578 212v1h1v-1zM579 211v1h1v-1zM580 210v1h1v-1zM581 208v2h1v-2zM582 207v1h1v-1zM583 206v1h1v-1zM584 205v1h1v-1zM585 203v2h1v-2zM586 202v1h1v-1zM587 201v1h1v-1zM588 199v2h1v-2zM589 198v1h1v-1zM590 197v1h1v-1zM591 196v1h1v-1zM592 194v2h1v-2zM593 193v1h1v-1zM594 192v1h1v-1zM595 191v1h1v-1zM596 189v2h1v-2zM597 188v1h1v-1zM598 187v1h1v-1z" fill="#0000ff"/><rect x="93" y="155" width="4" height="1" fill="#0000ff"/><rect x="91" y="156" width="7" height="1" fill="#0000ff"/><rect x="90" y="157" width="9" height="1" fill="#0000ff"/><rect x="89" y="158" width="11" height="1" fill="#0000ff"/><rect x="89" y="159" width="11" height="1" fill="#0000ff"/><rect x="90" y="160" width="9" height="1" fill="#0000ff"/><rect x="91" y="161" width="7" height="1" fill="#0000ff"/><rect x="93" y="162" width="4" height="1" fill="#0000ff"/><rect x="177" y="281" width="4" height="1" fill="#0000ff"/><rect x="175" y="282" width="7" height="1" fill="#0000ff"/><rect x="174" y="283" width="9" height="1" fill="#0000ff"/><rect x="173" y="284" width="11" height="1" fill="#0000ff"/><rect x="173" y="285" width="11" height="1" fill="#0000ff"/><rect x="174" y="286" width="9" height="1" fill="#0000ff"/><rect x="175" y="287" width="7" height="1" fill="#0000ff"/><rect x="177" y="288" width="4" height="1" fill="#0000ff"/><rect x="261" y="357" width="4" height="1" fill="#0000ff"/><rect x="259" y="358" width="7" height="1" fill="#0000ff"/><rect x="258" y="359" width="9" height="1" fill="#0000ff"/><rect x="257" y="360" width="11" height="1" fill="#0000ff"/><rect x="257" y="361" width="11" height="1" fill="#0000ff"/><rect x="258" y="362" width="9" height="1" fill="#0000ff"/><rect x="259" y="363" width="7" height="1" fill="#0000ff"/><rect x="261" y="364" width="4" height="1" fill="#0000ff"/><rect x="429" y="358" width="4" height="1" fill="#0000ff"/><rect x="427" y="359" width="7" height="1" fill="#0000ff"/><rect x="426" y="360" width="9" height="1" fill="#0000ff"/><rect x="425" y="361" width="11" height="1" fill="#0000ff"/><rect x="425" y="362" width="11" height="1" fill="#0000ff"/><rect x="426" y="363" width="9" height="1" fill="#0000ff"/><rect x="427" y="364" width="7" height="1" fill="#0000ff"/><rect x="429" y="365" width="4" height="1" fill="#0000ff"/><rect x="513" y="289" width="4" height="1" fill="#0000ff"/><rect x="511" y="290" width="7" height="1" fill="#0000ff"/><rect x="510" y="291" width="9" height="1" fill="#0000ff"/><rect x="509" y="292" width="11" height="1" fill="#0000ff"/><rect x="509" y="293" width="11" height="1" fill="#0000ff"/><rect x="510" y="294" width="9" height="1" fill="#0000ff"/><rect x="511" y="295" width="7" height="1" fill="#0000ff"/><rect x="513" y="296" width="4" height="1" fill="#0000ff"/><rect x="596" y="183" width="4" height="1" fill="#0000ff"/><rect x="594" y="184" width="8" height="1" fill="#0000ff"/><rect x="593" y="185" width="10" height="1" fill="#0000ff"/><rect x="592" y="186" width="12" height="1" fill="#0000ff"/><rect x="592" y="187" width="12" height="1" fill="#0000ff"/><rect x="593" y="188" width="10" height="1" fill="#0000ff"/><rect x="594" y="189" width="8" height="1" fill="#0000ff"/><rect x="596" y="190" width="4" height="1" fill="#0000ff"/><path d="M94 176v1h1v-1zM95 177v2h1v-2zM96 179v1h1v-1zM97 180v1h1v-1zM98 181v2h1v-2zM99 183v1h1v-1zM100 184v1h1v-1zM101 185v2h1v-2zM102 187v1h1v-1zM103 188v2h1v-2zM104 190v1h1v-1zM105 191v1h1v-1zM106 192v2h1v-2zM107 194v1h1v-1zM108 195v2h1v-2zM109 197v1h1v-1zM110 198v1h1v-1zM111 199v2h1v-2zM112 201v1h1v-1zM113 202v1h1v-1zM114 203v2h1v-2zM115 205v1h1v-1zM116 206v2h1v-2zM117 208v1h1v-1zM118 209v1h1v-1zM119 210v2h1v-2zM120 212v1h1v-1zM121 213v1h1v-1zM122 214v2h1v-2zM123 216v1h1v-1zM124 217v2h1v-2zM125 219v1h1v-1zM126 220v1h1v-1zM127 221v2h1v-2zM128 223v1h1v-1zM129 224v2h1v-2zM130 226v1h1v-1zM131 227v1h1v-1zM132 228v2h1v-2zM133 230v1h1v-1zM134 231v1h1v-1zM135 232v2h1v-2zM136 234v1h1v-1zM137 235v2h1v-2zM138 237v1h1v-1zM139 238v1h1v-1zM140 239v2h1v-2zM141 241v1h1v-1zM142 242v1h1v-1zM143 243v2h1v-2zM144 245v1h1v-1zM145 246v2h1v-2zM146 248v1h1v-1zM147 249v1h1v-1zM148 250v2h1v-2zM149 252v1h1v-1zM150 253v2h1v-2zM151 255v1h1v-1zM152 256v1h1v-1zM153 257v2h1v-2zM154 259v1h1v-1zM155 260v1h1v-1zM156 261v2h1v-2zM157 263v1h1v-1zM158 264v2h1v-2zM159 266v1h1v-1zM160 267v1h1v-1zM161 268v2h1v-2zM162 270v1h1v-1zM163 271v1h1v-1zM164 272v2h1v-2zM165 274v1h1v-1zM166 275v2h1v-2zM167 277v1h1v-1zM168 278v1h1v-1zM169 279v2h1v-2zM170 281v1h1v-1zM171 282v2h1v-2zM172 284v1h1v-1zM173 285v1h1v-1zM174 286v2h1v-2zM175 288v1h1v-1zM176 289v1h1v-1zM177 290v2h1v-2zM178 292v1h1v-1zM178 292h1v1h-1zM179 293h1v1h-1zM180 294h1v1h-1zM181 295h2v1h-2zM183 296h1v1h-1zM184 297h1v1h-1zM185 298h1v1h-1zM186 299h1v1h-1zM187 300h2v1h-2zM189 301h1v1h-1zM190 302h1v1h-1zM191 303h1v1h-1zM192 304h1v1h-1zM193 305h1v1h-1zM194 306h2v1h-2zM196 307h1v1h-1zM197 308h1v1h-1zM198 309h1v1h-1zM199 310h1v1h-1zM200 311h2v1h-2zM202 312h1v1h-1zM203 313h1v1h-1zM204 314h1v1h-1zM205 315h1v1h-1zM206 316h1v1h-1zM207 317h2v1h-2zM209 318h1v1h-1zM210 319h1v1h-1zM211 320h1v1h-1zM212 321h1v1h-1zM213 322h2v1h-2zM215 323h1v1h-1zM216 324h1v1h-1zM217 325h1v1h-1zM218 326h1v1h-1zM219 327h2v1h-2zM221 328h1v1h-1zM222 329h1v1h-1zM223 330h1v1h-1zM224 331h1v1h-1zM225 332h1v1h-1zM226 333h2v1h-2zM228 334h1v1h-1zM229 335h1v1h-1zM230 336h1v1h-1zM231 337h1v1h-1zM232 338h2v1h-2zM234 339h1v1h-1zM235 340h1v1h-1zM236 341h1v1h-1zM237 342h1v1h-1zM238 343h1v1h-1zM239 344h2v1h-2zM241 345h1v1h-1zM242 346h1v1h-1zM243 347h1v1h-1zM244 348h1v1h-1zM245 349h2v1h-2zM247 350h1v1h-1zM248 351h1v1h-1zM249 352h1v1h-1zM250 353h1v1h-1zM251 354h1v1h-1zM252 355h2v1h-2zM254 356h1v1h-1zM255 357h1v1h-1zM256 358h1v1h-1zM257 359h1v1h-1zM258 360h2v1h-2zM260 361h1v1h-1zM261 362h1v1h-1zM262 363h1v1h-1zM262 363h2v1h-2zM264 364h2v1h-2zM266 365h3v1h-3zM269 366h2v1h-2zM271 367h2v1h-2zM273 368h3v1h-3zM276 369h2v1h-2zM278 370h3v1h-3zM281 371h2v1h-2zM283 372h3v1h-3zM286 373h2v1h-2zM288 374h2v1h-2zM290 375h3v1h-3zM293 376h2v1h-2zM295 377h3v1h-3zM298 378h2v1h-2zM300 379h3v1h-3zM303 380h2v1h-2zM305 381h2v1h-2zM307 382h3v1h-3zM310 383h2v1h-2zM312 384h3v1h-3zM315 385h2v1h-2zM317 386h3v1h-3zM320 387h2v1h-2zM322 388h2v1h-2zM324 389h3v1h-3zM327 390h2v1h-2zM329 391h3v1h-3zM332 392h2v1h-2zM334 393h3v1h-3zM337 394h2v1h-2zM339 395h2v1h-2zM341 396h3v1h-3zM344 397h2v1h-2zM346 398h2v1h-2zM347 398h2v1h-2zM349 397h2v1h-2zM351 396h3v1h-3zM354 395h2v1h-2zM356 394h2v1h-2zM358 393h3v1h-3zM361 392h2v1h-2zM363 391h3v1h-3zM366 390h2v1h-2zM368 389h3v1h-3zM371 388h2v1h-2zM373 387h3v1h-3zM376 386h2v1h-2zM378 385h2v1h-2zM380 384h3v1h-3zM383 383h2v1h-2zM385 382h3v1h-3zM388 381h2v1h-2zM390 380h3v1h-3zM393 379h2v1h-2zM395 378h3v1h-3zM398 377h2v1h-2zM400 376h2v1h-2zM402 375h3v1h-3zM405 374h2v1h-2zM407 373h3v1h-3zM410 372h2v1h-2zM412 371h3v1h-3zM415 370h2v1h-2zM417 369h3v1h-3zM420 368h2v1h-2zM422 367h2v1h-2zM424 366h3v1h-3zM427 365h2v1h-2zM429 364h2v1h-2zM430 364h1v1h-1zM431 363h1v1h-1zM432 362h2v1h-2zM434 361h1v1h-1zM435 360h1v1h-1zM436 359h2v1h-2zM438 358h1v1h-1zM439 357h1v1h-1zM440 356h1v1h-1zM441 355h2v1h-2zM443 354h1v1h-1zM444 353h1v1h-1zM445 352h2v1h-2zM447 351h1v1h-1zM448 350h1v1h-1zM449 349h2v1h-2zM451 348h1v1h-1zM452 347h1v1h-1zM453 346h1v1h-1zM454 345h2v1h-2zM456 344h1v1h-1zM457 343h1v1h-1zM458 342h2v1h-2zM460 341h1v1h-1zM461 340h1v1h-1zM462 339h1v1h-1zM463 338h2v1h-2zM465 337h1v1h-1zM466 336h1v1h-1zM467 335h2v1h-2zM469 334h1v1h-1zM470 333h1v1h-1zM471 332h2v1h-2zM473 331h1v1h-1zM474 330h1v1h-1zM475 329h1v1h-1zM476 328h2v1h-2zM478 327h1v1h-1zM479 326h1v1h-1zM480 325h2v1h-2zM482 324h1v1h-1zM483 323h1v1h-1zM484 322h1v1h-1zM485 321h2v1h-2zM487 320h1v1h-1zM488 319h1v1h-1zM489 318h2v1h-2zM491 317h1v1h-1zM492 316h1v1h-1zM493 315h1v1h-1zM494 314h2v1h-2zM496 313h1v1h-1zM497 312h1v1h-1zM498 311h2v1h-2zM500 310h1v1h-1zM501 309h1v1h-1zM502 308h2v1h-2zM504 307h1v1h-1zM505 306h1v1h-1zM506 305h1v1h-1zM507 304h2v1h-2zM509 303h1v1h-1zM510 302h1v1h-1zM511 301h2v1h-2zM513 300h1v1h-1zM514 299h1v1h-1zM514 299v1h1v-1zM515 298v1h1v-1zM516 297v1h1v-1zM517 295v2h1v-2zM518 294v1h1v-1zM519 293v1h1v-1zM520 292v1h1v-1zM521 291v1h1v-1zM522 289v2h1v-2zM523 288v1h1v-1zM524 287v1h1v-1zM525 286v1h1v-1zM526 285v1h1v-1zM527 284v1h1v-1zM528 282v2h1v-2zM529 281v1h1v-1zM530 280v1h1v-1zM531 279v1h1v-1zM532 278v1h1v-1zM533 277v1h1v-1zM534 275v2h1v-2zM535 274v1h1v-1zM536 273v1h1v-1zM537 272v1h1v-1zM538 271v1h1v-1zM539 269v2h1v-2zM540 268v1h1v-1zM541 267v1h1v-1zM542 266v1h1v-1zM543 265v1h1v-1zM544 264v1h1v-1zM545 262v2h1v-2zM546 261v1h1v-1zM547 260v1h1v-1zM548 259v1h1v-1zM549 258v1h1v-1zM550 256v2h1v-2zM551 255v1h1v-1zM552 254v1h1v-1zM553 253v1h1v-1zM554 252v1h1v-1zM555 251v1h1v-1zM556 249v2h1v-2zM557 248v1h1v-1zM558 247v1h1v-1zM559 246v1h1v-1zM560 245v1h1v-1zM561 244v1h1v-1zM562 242v2h1v-2zM563 241v1h1v-1zM564 240v1h1v-1zM565 239v1h1v-1zM566 238v1h1v-1zM567 236v2h1v-2zM568 235v1h1v-1zM569 234v1h1v-1zM570 233v1h1v-1zM571 232v1h1v-1zM572 231v1h1v-1zM573 229v2h1v-2zM574 228v1h1v-1zM575 227v1h1v-1zM576 226v1h1v-1zM577 225v1h1v-1zM578 223v2h1v-2zM579 222v1h1v-1zM580 221v1h1v-1zM581 220v1h1v-1zM582 219v1h1v-1zM583 218v1h1v-1zM584 216v2h1v-2zM585 215v1h1v-1zM586 214v1h1v-1zM587 213v1h1v-1zM588 212v1h1v-1zM589 211v1h1v-1zM590 209v2h1v-2zM591 208v1h1v-1zM592 207v1h1v-1zM593 206v1h1v-1zM594 205v1h1v-1zM595 203v2h1v-2zM596 202v1h1v-1zM597 201v1h1v-1zM598 200v1h1v-1z" fill="#808080"/><rect x="94" y="172" width="1" height="1" fill="#808080"/><rect x="94" y="173" width="2" height="1" fill="#808080"/><rect x="93" y="174" width="3" height="1" fill="#808080"/><rect x="93" y="175" width="4" height="1" fill="#808080"/><rect x="92" y="176" width="5" height="1" fill="#808080"/><rect x="92" y="177" width="6" height="1" fill="#808080"/><rect x="91" y="178" width="7" height="1" fill="#808080"/><rect x="91" y="179" width="8" height="1" fill="#808080"/><rect x="90" y="180" width="10" height="1" fill="#808080"/><rect x="89" y="181" width="12" height="1" fill="#808080"/><rect x="178" y="288" width="1" height="1" fill="#808080"/><rect x="178" y="289" width="2" height="1" fill="#808080"/><rect x="177" y="290" width="3" height="1" fill="#808080"/><rect x="177" y="291" width="4" height="1" fill="#808080"/><rect x="176" y="292" width="5" height="1" fill="#808080"/><rect x="176" y="293" width="6" height="1" fill="#808080"/><rect x="175" y="294" width="7" height="1" fill="#808080"/><rect x="175" y="295" width="8" height="1" fill="#808080"/><rect x="174" y="296" width="10" height="1" fill="#808080"/><rect x="173" y="297" width="12" height="1" fill="#808080"/><rect x="262" y="359" width="1" height="1" fill="#808080"/><rect x="262" y="360" width="2" height="1" fill="#808080"/><rect x="261" y="361" width="3" height="1" fill="#808080"/><rect x="261" y="362" width="4" height="1" fill="#808080"/><rect x="260" y="363" width="5" height="1" fill="#808080"/><rect x="260" y="364" width="6" height="1" fill="#808080"/><rect x="259" y="365" width="7" height="1" fill="#808080"/><rect x="259" y="366" width="8" height="1" fill="#808080"/><rect x="258" y="367" width="10" height="1" fill="#808080"/><rect x="257" y="368" width="12" height="1" fill="#808080"/><rect x="430" y="360" width="1" height="1" fill="#808080"/><rect x="430" y="361" width="2" height="1" fill="#808080"/><rect x="429" y="362" width="3" height="1" fill="#808080"/><rect x="429" y="363" width="4" height="1" fill="#808080"/><rect x="428" y="364" width="5" height="1" fill="#808080"/><rect x="428" y="365" width="6" height="1" fill="#808080"/><rect x="427" y="366" width="7" height="1" fill="#808080"/><rect x="427" y="367" width="8" height="1" fill="#808080"/><rect x="426" y="368" width="10" height="1" fill="#808080"/><rect x="425" y="369" width="12" height="1" fill="#808080"/><rect x="514" y="295" width="1" height="1" fill="#808080"/><rect x="514" y="296" width="2" height="1" fill="#808080"/><rect x="513" y="297" width="3" height="1" fill="#808080"/><rect x="513" y="298" width="4" height="1" fill="#808080"/><rect x="512" y="299" width="5" height="1" fill="#808080"/><rect x="512" y="300" width="6" height="1" fill="#808080"/><rect x="511" y="301" width="7" height="1" fill="#808080"/><rect x="511" y="302" width="8" height="1" fill="#808080"/><rect x="510" y="303" width="10" height="1" fill="#808080"/><rect x="509" y="304" width="12" height="1" fill="#808080"/><rect x="598" y="196" width="1" height="1" fill="#808080"/><rect x="598" y="197" width="2" height="1" fill="#808080"/><rect x="597" y="198" width="3" height="1" fill="#808080"/><rect x="597" y="199" width="4" height="1" fill="#808080"/><rect x="596" y="200" width="5" height="1" fill="#808080"/><rect x="596" y="201" width="6" height="1" fill="#808080"/><rect x="595" y="202" width="7" height="1" fill="#808080"/><rect x="595" y="203" width="8" height="1" fill="#808080"/><rect x="594" y="204" width="10" height="1" fill="#808080"/><rect x="593" y="205" width="12" height="1" fill="#808080"/><path d="M94 215v1h1v-1zM95 216v1h1v-1zM96 217v1h1v-1zM97 218v1h1v-1zM98 219v2h1v-2zM99 221v1h1v-1zM100 222v1h1v-1zM101 223v1h1v-1zM102 224v1h1v-1zM103 225v1h1v-1zM104 226v1h1v-1zM105 227v2h1v-2zM106 229v1h1v-1zM107 230v1h1v-1zM108 231v1h1v-1zM109 232v1h1v-1zM110 233v1h1v-1zM111 234v1h1v-1zM112 235v1h1v-1zM113 236v2h1v-2zM114 238v1h1v-1zM115 239v1h1v-1zM116 240v1h1v-1zM117 241v1h1v-1zM118 242v1h1v-1zM119 243v1h1v-1zM120 244v1h1v-1zM121 245v2h1v-2zM122 247v1h1v-1zM123 248v1h1v-1zM124 249v1h1v-1zM125 250v1h1v-1zM126 251v1h1v-1zM127 252v1h1v-1zM128 253v2h1v-2zM129 255v1h1v-1zM130 256v1h1v-1zM131 257v1h1v-1zM132 258v1h1v-1zM133 259v1h1v-1zM134 260v1h1v-1zM135 261v1h1v-1zM136 262v2h1v-2zM137 264v1h1v-1zM138 265v1h1v-1zM139 266v1h1v-1zM140 267v1h1v-1zM141 268v1h1v-1zM142 269v1h1v-1zM143 270v1h1v-1zM144 271v2h1v-2zM145 273v1h1v-1zM146 274v1h1v-1zM147 275v1h1v-1zM148 276v1h1v-1zM149 277v1h1v-1zM150 278v1h1v-1zM151 279v2h1v-2zM152 281v1h1v-1zM153 282v1h1v-1zM154 283v1h1v-1zM155 284v1h1v-1zM156 285v1h1v-1zM157 286v1h1v-1zM158 287v1h1v-1zM159 288v2h1v-2zM160 290v1h1v-1zM161 291v1h1v-1zM162 292v1h1v-1zM163 293v1h1v-1zM164 294v1h1v-1zM165 295v1h1v-1zM166 296v1h1v-1zM167 297v2h1v-2zM168 299v1h1v-1zM169 300v1h1v-1zM170 301v1h1v-1zM171 302v1h1v-1zM172 303v1h1v-1zM173 304v1h1v-1zM174 305v2h1v-2zM175 307v1h1v-1zM176 308v1h1v-1zM177 309v1h1v-1zM178 310v1h1v-1zM178 310h1v1h-1zM179 311h2v1h-2zM181 312h1v1h-1zM182 313h2v1h-2zM184 314h1v1h-1zM185 315h1v1h-1zM186 316h2v1h-2zM188 317h1v1h-1zM189 318h2v1h-2zM191 319h1v1h-1zM192 320h2v1h-2zM194 321h1v1h-1zM195 322h2v1h-2zM197 323h1v1h-1zM198 324h2v1h-2zM200 325h1v1h-1zM201 326h1v1h-1zM202 327h2v1h-2zM204 328h1v1h-1zM205 329h2v1h-2zM207 330h1v1h-1zM208 331h2v1h-2zM210 332h1v1h-1zM211 333h2v1h-2zM213 334h1v1h-1zM214 335h1v1h-1zM215 336h2v1h-2zM217 337h1v1h-1zM218 338h2v1h-2zM220 339h1v1h-1zM221 340h2v1h-2zM223 341h1v1h-1zM224 342h2v1h-2zM226 343h1v1h-1zM227 344h1v1h-1zM228 345h2v1h-2zM230 346h1v1h-1zM231 347h2v1h-2zM233 348h1v1h-1zM234 349h2v1h-2zM236 350h1v1h-1zM237 351h2v1h-2zM239 352h1v1h-1zM240 353h2v1h-2zM242 354h1v1h-1zM243 355h1v1h-1zM244 356h2v1h-2zM246 357h1v1h-1zM247 358h2v1h-2zM249 359h1v1h-1zM250 360h2v1h-2zM252 361h1v1h-1zM253 362h2v1h-2zM255 363h1v1h-1zM256 364h1v1h-1zM257 365h2v1h-2zM259 366h1v1h-1zM260 367h2v1h-2zM262 368h1v1h-1zM262 368h2v1h-2zM264 369h3v1h-3zM267 370h3v1h-3zM270 371h2v1h-2zM272 372h3v1h-3zM275 373h3v1h-3zM278 374h3v1h-3zM281 375h3v1h-3zM284 376h3v1h-3zM287 377h2v1h-2zM289 378h3v1h-3zM292 379h3v1h-3zM295 380h3v1h-3zM298 381h3v1h-3zM301 382h3v1h-3zM304 383h2v1h-2zM306 384h3v1h-3zM309 385h3v1h-3zM312 386h3v1h-3zM315 387h3v1h-3zM318 388h3v1h-3zM321 389h2v1h-2zM323 390h3v1h-3zM326 391h3v1h-3zM329 392h3v1h-3zM332 393h3v1h-3zM335 394h3v1h-3zM338 395h2v1h-2zM340 396h3v1h-3zM343 397h3v1h-3zM346 398h2v1h-2zM347 398h2v1h-2zM349 397h3v1h-3zM352 396h3v1h-3zM355 395h3v1h-3zM358 394h2v1h-2zM360 393h3v1h-3zM363 392h3v1h-3zM366 391h3v1h-3zM369 390h3v1h-3zM372 389h3v1h-3zM375 388h3v1h-3zM378 387h2v1h-2zM380 386h3v1h-3zM383 385h3v1h-3zM386 384h3v1h-3zM389 383h3v1h-3zM392 382h3v1h-3zM395 381h3v1h-3zM398 380h2v1h-2zM400 379h3v1h-3zM403 378h3v1h-3zM406 377h3v1h-3zM409 376h3v1h-3zM412 375h3v1h-3zM415 374h3v1h-3zM418 373h2v1h-2zM420 372h3v1h-3zM423 371h3v1h-3zM426 370h3v1h-3zM429 369h2v1h-2zM430 369h1v1h-1zM431 368h2v1h-2zM433 367h1v1h-1zM434 366h2v1h-2zM436 365h2v1h-2zM438 364h1v1h-1zM439 363h2v1h-2zM441 362h1v1h-1zM442 361h2v1h-2zM444 360h2v1h-2zM446 359h1v1h-1zM447 358h2v1h-2zM449 357h1v1h-1zM450 356h2v1h-2zM452 355h1v1h-1zM453 354h2v1h-2zM455 353h2v1h-2zM457 352h1v1h-1zM458 351h2v1h-2zM460 350h1v1h-1zM461 349h2v1h-2zM463 348h2v1h-2zM465 347h1v1h-1zM466 346h2v1h-2zM468 345h1v1h-1zM469 344h2v1h-2zM471 343h2v1h-2zM473 342h1v1h-1zM474 341h2v1h-2zM476 340h1v1h-1zM477 339h2v1h-2zM479 338h1v1h-1zM480 337h2v1h-2zM482 336h2v1h-2zM484 335h1v1h-1zM485 334h2v1h-2zM487 333h1v1h-1zM488 332h2v1h-2zM490 331h2v1h-2zM492 330h1v1h-1zM493 329h2v1h-2zM495 328h1v1h-1zM496 327h2v1h-2zM498 326h1v1h-1zM499 325h2v1h-2zM501 324h2v1h-2zM503 323h1v1h-1zM504 322h2v1h-2zM506 321h1v1h-1zM507 320h2v1h-2zM509 319h2v1h-2zM511 318h1v1h-1zM512 317h2v1h-2zM514 316h1v1h-1zM514 316h1v1h-1zM515 315h1v1h-1zM516 314h1v1h-1zM517 313h1v1h-1zM518 312h1v1h-1zM519 311h1v1h-1zM520 310h1v1h-1zM521 309h1v1h-1zM522 308h1v1h-1zM523 307h1v1h-1zM524 306h1v1h-1zM525 305h1v1h-1zM526 304h1v1h-1zM527 303h2v1h-2zM529 302h1v1h-1zM530 301h1v1h-1zM531 300h1v1h-1zM532 299h1v1h-1zM533 298h1v1h-1zM534 297h1v1h-1zM535 296h1v1h-1zM536 295h1v1h-1zM537 294h1v1h-1zM538 293h1v1h-1zM539 292h1v1h-1zM540 291h1v1h-1zM541 290h1v1h-1zM542 289h1v1h-1zM543 288h1v1h-1zM544 287h1v1h-1zM545 286h1v1h-1zM546 285h1v1h-1zM547 284h1v1h-1zM548 283h1v1h-1zM549 282h1v1h-1zM550 281h1v1h-1zM551 280h1v1h-1zM552 279h1v1h-1zM553 278h1v1h-1zM554 277h1v1h-1zM555 276h2v1h-2zM557 275h1v1h-1zM558 274h1v1h-1zM559 273h1v1h-1zM560 272h1v1h-1zM561 271h1v1h-1zM562 270h1v1h-1zM563 269h1v1h-1zM564 268h1v1h-1zM565 267h1v1h-1zM566 266h1v1h-1zM567 265h1v1h-1zM568 264h1v1h-1zM569 263h1v1h-1zM570 262h1v1h-1zM571 261h1v1h-1zM572 260h1v1h-1zM573 259h1v1h-1zM574 258h1v1h-1zM575 257h1v1h-1zM576 256h1v1h-1zM577 255h1v1h-1zM578 254h1v1h-1zM579 253h1v1h-1zM580 252h1v1h-1zM581 251h1v1h-1zM582 250h1v1h-1zM583 249h2v1h-2zM585 248h1v1h-1zM586 247h1v1h-1zM587 246h1v1h-1zM588 245h1v1h-1zM589 244h1v1h-1zM590 243h1v1h-1zM591 242h1v1h-1zM592 241h1v1h-1zM593 240h1v1h-1zM594 239h1v1h-1zM595 238h1v1h-1zM596 237h1v1h-1zM597 236h1v1h-1zM598 235h1v1h-1z" fill="#990033"/><rect x="89" y="211" width="12" height="1" fill="#990033"/><rect x="90" y="212" width="10" height="1" fill="#990033"/><rect x="92" y="213" width="6" height="1" fill="#990033"/><rect x="93" y="214" width="4" height="1" fill="#990033"/><rect x="94" y="215" width="2" height="1" fill="#990033"/><rect x="94" y="216" width="2" height="1" fill="#990033"/><rect x="93" y="217" width="4" height="1" fill="#990033"/><rect x="92" y="218" width="6" height="1" fill="#990033"/><rect x="90" y="219" width="10" height="1" fill="#990033"/><rect x="89" y="220" width="12" height="1" fill="#990033"/><rect x="91" y="212" width="1" height="1" fill="#990066"/><rect x="92" y="212" width="1" height="1" fill="#660033"/><rect x="93" y="212" width="1" height="1" fill="#990066"/><rect x="94" y="212" width="1" height="1" fill="#660033"/><rect x="95" y="212" width="1" height="1" fill="#990066"/><rect x="96" y="212" width="1" height="1" fill="#660033"/><rect x="97" y="212" width="1" height="1" fill="#990066"/><rect x="98" y="212" width="1" height="1" fill="#660033"/><rect x="93" y="213" width="1" height="1" fill="#660033"/><rect x="95" y="213" width="1" height="1" fill="#660033"/><rect x="93" y="218" width="1" height="1" fill="#990066"/><rect x="94" y="218" width="1" height="1" fill="#660033"/><rect x="95" y="218" width="1" height="1" fill="#990066"/><rect x="96" y="218" width="1" height="1" fill="#660033"/><rect x="91" y="219" width="1" height="1" fill="#660033"/><rect x="93" y="219" width="1" height="1" fill="#660033"/><rect x="95" y="219" width="1" height="1" fill="#660033"/><rect x="97" y="219" width="1" height="1" fill="#660033"/><rect x="173" y="306" width="12" height="1" fill="#990033"/><rect x="174" y="307" width="10" height="1" fill="#990033"/><rect x="176" y="308" width="6" height="1" fill="#990033"/><rect x="178" y="309" width="2" height="1" fill="#990033"/><rect x="178" y="310" width="2" height="1" fill="#990033"/><rect x="178" y="311" width="2" height="1" fill="#990033"/><rect x="176" y="312" width="6" height="1" fill="#990033"/><rect x="174" y="313" width="10" height="1" fill="#990033"/><rect x="173" y="314" width="12" height="1" fill="#990033"/><rect x="175" y="307" width="1" height="1" fill="#660033"/><rect x="177" y="307" width="1" height="1" fill="#660033"/><rect x="179" y="307" width="1" height="1" fill="#660033"/><rect x="181" y="307" width="1" height="1" fill="#660033"/><rect x="177" y="308" width="1" height="1" fill="#990066"/><rect x="178" y="308" width="1" height="1" fill="#660033"/><rect x="179" y="308" width="1" height="1" fill="#990066"/><rect x="180" y="308" width="1" height="1" fill="#660033"/><rect x="177" y="312" width="1" height="1" fill="#990066"/><rect x="178" y="312" width="1" height="1" fill="#660033"/><rect x="179" y="312" width="1" height="1" fill="#990066"/><rect x="180" y="312" width="1" height="1" fill="#660033"/><rect x="175" y="313" width="1" height="1" fill="#660033"/><rect x="177" y="313" width="1" height="1" fill="#660033"/><rect x="179" y="313" width="1" height="1" fill="#660033"/><rect x="181" y="313" width="1" height="1" fill="#660033"/><rect x="256" y="364" width="13" height="1" fill="#990033"/><rect x="257" y="365" width="11" height="1" fill="#990033"/><rect x="259" y="366" width="7" height="1" fill="#990033"/><rect x="260" y="367" width="5" height="1" fill="#990033"/><rect x="262" y="368" width="2" height="1" fill="#990033"/><rect x="262" y="369" width="2" height="1" fill="#990033"/><rect x="260" y="370" width="5" height="1" fill="#990033"/><rect x="259" y="371" width="7" height="1" fill="#990033"/><rect x="257" y="372" width="11" height="1" fill="#990033"/><rect x="256" y="373" width="13" height="1" fill="#990033"/><rect x="259" y="365" width="1" height="1" fill="#660033"/><rect x="261" y="365" width="1" height="1" fill="#660033"/><rect x="263" y="365" width="1" height="1" fill="#660033"/><rect x="265" y="365" width="1" height="1" fill="#660033"/><rect x="260" y="366" width="1" height="1" fill="#660033"/><rect x="261" y="366" width="1" height="1" fill="#990066"/><rect x="262" y="366" width="1" height="1" fill="#660033"/><rect x="263" y="366" width="1" height="1" fill="#990066"/><rect x="264" y="366" width="1" height="1" fill="#660033"/><rect x="261" y="367" width="1" height="1" fill="#660033"/><rect x="263" y="367" width="1" height="1" fill="#660033"/><rect x="261" y="370" width="1" height="1" fill="#990066"/><rect x="262" y="370" width="1" height="1" fill="#660033"/><rect x="263" y="370" width="1" height="1" fill="#990066"/><rect x="261" y="371" width="1" height="1" fill="#660033"/><rect x="263" y="371" width="1" height="1" fill="#660033"/><rect x="258" y="372" width="1" height="1" fill="#660033"/><rect x="259" y="372" width="1" height="1" fill="#990066"/><rect x="260" y="372" width="1" height="1" fill="#660033"/><rect x="261" y="372" width="1" height="1" fill="#990066"/><rect x="262" y="372" width="1" height="1" fill="#660033"/><rect x="263" y="372" width="1" height="1" fill="#990066"/><rect x="264" y="372" width="1" height="1" fill="#660033"/><rect x="265" y="372" width="1" height="1" fill="#990066"/><rect x="266" y="372" width="1" height="1" fill="#660033"/><rect x="341" y="393" width="12" height="1" fill="#990033"/><rect x="342" y="394" width="10" height="1" fill="#990033"/><rect x="344" y="395" width="6" height="1" fill="#990033"/><rect x="345" y="396" width="4" height="1" fill="#990033"/><rect x="346" y="397" width="2" height="1" fill="#990033"/><rect x="346" y="398" width="2" height="1" fill="#990033"/><rect x="345" y="399" width="4" height="1" fill="#990033"/><rect x="344" y="400" width="6" height="1" fill="#990033"/><rect x="342" y="401" width="10" height="1" fill="#990033"/><rect x="341" y="402" width="12" height="1" fill="#990033"/><rect x="343" y="394" width="1" height="1" fill="#990066"/><rect x="344" y="394" width="1" height="1" fill="#660033"/><rect x="345" y="394" width="1" height="1" fill="#990066"/><rect x="346" y="394" width="1" height="1" fill="#660033"/><rect x="347" y="394" width="1" height="1" fill="#990066"/><rect x="348" y="394" width="1" height="1" fill="#660033"/><rect x="349" y="394" width="1" height="1" fill="#990066"/><rect x="350" y="394" width="1" height="1" fill="#660033"/><rect x="345" y="395" width="1" height="1" fill="#660033"/><rect x="347" y="395" width="1" height="1" fill="#660033"/><rect x="345" y="400" width="1" height="1" fill="#990066"/><rect x="346" y="400" width="1" height="1" fill="#660033"/><rect x="347" y="400" width="1" height="1" fill="#990066"/><rect x="348" y="400" width="1" height="1" fill="#660033"/><rect x="343" y="401" width="1" height="1" fill="#660033"/><rect x="345" y="401" width="1" height="1" fill="#660033"/><rect x="347" y="401" width="1" height="1" fill="#660033"/><rect x="349" y="401" width="1" height="1" fill="#660033"/><rect x="425" y="365" width="12" height="1" fill="#990033"/><rect x="426" y="366" width="10" height="1" fill="#990033"/><rect x="428" y="367" width="6" height="1" fill="#990033"/><rect x="430" y="368" width="2" height="1" fill="#990033"/><rect x="430" y="369" width="2" height="1" fill="#990033"/><rect x="430" y="370" width="2" height="1" fill="#990033"/><rect x="428" y="371" width="6" height="1" fill="#990033"/><rect x="426" y="372" width="10" height="1" fill="#990033"/><rect x="425" y="373" width="12" height="1" fill="#990033"/><rect x="427" y="366" width="1" height="1" fill="#990066"/><rect x="428" y="366" width="1" height="1" fill="#660033"/><rect x="429" y="366" width="1" height="1" fill="#990066"/><rect x="430" y="366" width="1" height="1" fill="#660033"/><rect x="431" y="366" width="1" height="1" fill="#990066"/><rect x="432" y="366" width="1" height="1" fill="#660033"/><rect x="433" y="366" width="1" height="1" fill="#990066"/><rect x="434" y="366" width="1" height="1" fill="#660033"/><rect x="429" y="367" width="1" height="1" fill="#660033"/><rect x="431" y="367" width="1" height="1" fill="#660033"/><rect x="429" y="371" width="1" height="1" fill="#660033"/><rect x="431" y="371" width="1" height="1" fill="#660033"/><rect x="427" y="372" width="1" height="1" fill="#990066"/><rect x="428" y="372" width="1" height="1" fill="#660033"/><rect x="429" y="372" width="1" height="1" fill="#990066"/><rect x="430" y="372" width="1" height="1" fill="#660033"/><rect x="431" y="372" width="1" height="1" fill="#990066"/><rect x="432" y="372" width="1" height="1" fill="#660033"/><rect x="433" y="372" width="1" height="1" fill="#990066"/><rect x="434" y="372" width="1" height="1" fill="#660033"/><rect x="509" y="312" width="12" height="1" fill="#990033"/><rect x="510" y="313" width="10" height="1" fill="#990033"/><rect x="512" y="314" width="6" height="1" fill="#990033"/><rect x="514" y="315" width="2" height="1" fill="#990033"/><rect x="514" y="316" width="2" height="1" fill="#990033"/><rect x="514" y="317" width="2" height="1" fill="#990033"/><rect x="512" y="318" width="6" height="1" fill="#990033"/><rect x="510" y="319" width="10" height="1" fill="#990033"/><rect x="509" y="320" width="12" height="1" fill="#990033"/><rect x="511" y="313" width="1" height="1" fill="#660033"/><rect x="513" y="313" width="1" height="1" fill="#660033"/><rect x="515" y="313" width="1" height="1" fill="#660033"/><rect x="517" y="313" width="1" height="1" fill="#660033"/><rect x="513" y="314" width="1" height="1" fill="#990066"/><rect x="514" y="314" width="1" height="1" fill="#660033"/><rect x="515" y="314" width="1" height="1" fill="#990066"/><rect x="516" y="314" width="1" height="1" fill="#660033"/><rect x="513" y="318" width="1" height="1" fill="#990066"/><rect x="514" y="318" width="1" height="1" fill="#660033"/><rect x="515" y="318" width="1" height="1" fill="#990066"/><rect x="516" y="318" width="1" height="1" fill="#660033"/><rect x="511" y="319" width="1" height="1" fill="#660033"/><rect x="513" y="319" width="1" height="1" fill="#660033"/><rect x="515" y="319" width="1" height="1" fill="#660033"/><rect x="517" y="319" width="1" height="1" fill="#660033"/><rect x="592" y="230" width="13" height="1" fill="#990033"/><rect x="593" y="231" width="11" height="1" fill="#990033"/><rect x="595" y="232" width="7" height="1" fill="#990033"/><rect x="596" y="233" width="5" height="1" fill="#990033"/><rect x="598" y="234" width="2" height="1" fill="#990033"/><rect x="598" y="235" width="2" height="1" fill="#990033"/><rect x="596" y="236" width="5" height="1" fill="#990033"/><rect x="595" y="237" width="7" height="1" fill="#990033"/><rect x="593" y="238" width="11" height="1" fill="#990033"/><rect x="592" y="239" width="13" height="1" fill="#990033"/><rect x="595" y="231" width="1" height="1" fill="#660033"/><rect x="597" y="231" width="1" height="1" fill="#660033"/><rect x="599" y="231" width="1" height="1" fill="#660033"/><rect x="601" y="231" width="1" height="1" fill="#660033"/><rect x="596" y="232" width="1" height="1" fill="#660033"/><rect x="597" y="232" width="1" height="1" fill="#990066"/><rect x="598" y="232" width="1" height="1" fill="#660033"/><rect x="599" y="232" width="1" height="1" fill="#990066"/><rect x="600" y="232" width="1" height="1" fill="#660033"/><rect x="597" y="233" width="1" height="1" fill="#660033"/><rect x="599" y="233" width="1" height="1" fill="#660033"/><rect x="597" y="236" width="1" height="1" fill="#990066"/><rect x="598" y="236" width="1" height="1" fill="#660033"/><rect x="599" y="236" width="1" height="1" fill="#990066"/><rect x="597" y="237" width="1" height="1" fill="#660033"/><rect x="599" y="237" width="1" height="1" fill="#660033"/><rect x="594" y="238" width="1" height="1" fill="#660033"/><rect x="595" y="238" width="1" height="1" fill="#990066"/><rect x="596" y="238" width="1" height="1" fill="#660033"/><rect x="597" y="238" width="1" height="1" fill="#990066"/><rect x="598" y="238" width="1" height="1" fill="#660033"/><rect x="599" y="238" width="1" height="1" fill="#990066"/><rect x="600" y="238" width="1" height="1" fill="#660033"/><rect x="601" y="238" width="1" height="1" fill="#990066"/><rect x="602" y="238" width="1" height="1" fill="#660033"/><path d="M94 285h1v1h-1zM95 286h2v1h-2zM97 287h1v1h-1zM98 288h2v1h-2zM100 289h1v1h-1zM101 290h2v1h-2zM103 291h1v1h-1zM104 292h2v1h-2zM106 293h1v1h-1zM107 294h2v1h-2zM109 295h1v1h-1zM110 296h2v1h-2zM112 297h1v1h-1zM113 298h2v1h-2zM115 299h1v1h-1zM116 300h2v1h-2zM118 301h1v1h-1zM119 302h2v1h-2zM121 303h1v1h-1zM122 304h2v1h-2zM124 305h1v1h-1zM125 306h2v1h-2zM127 307h1v1h-1zM128 308h2v1h-2zM130 309h1v1h-1zM131 310h2v1h-2zM133 311h1v1h-1zM134 312h2v1h-2zM136 313h1v1h-1zM137 314h2v1h-2zM139 315h1v1h-1zM140 316h2v1h-2zM142 317h1v1h-1zM143 318h2v1h-2zM145 319h1v1h-1zM146 320h2v1h-2zM148 321h1v1h-1zM149 322h2v1h-2zM151 323h1v1h-1zM152 324h2v1h-2zM154 325h1v1h-1zM155 326h2v1h-2zM157 327h1v1h-1zM158 328h2v1h-2zM160 329h1v1h-1zM161 330h2v1h-2zM163 331h1v1h-1zM164 332h2v1h-2zM166 333h1v1h-1zM167 334h2v1h-2zM169 335h1v1h-1zM170 336h2v1h-2zM172 337h1v1h-1zM173 338h2v1h-2zM175 339h1v1h-1zM176 340h2v1h-2zM178 341h1v1h-1zM178 341h2v1h-2zM180 342h2v1h-2zM182 343h2v1h-2zM184 344h3v1h-3zM187 345h2v1h-2zM189 346h2v1h-2zM191 347h3v1h-3zM194 348h2v1h-2zM196 349h2v1h-2zM198 350h3v1h-3zM201 351h2v1h-2zM203 352h2v1h-2zM205 353h3v1h-3zM208 354h2v1h-2zM210 355h2v1h-2zM212 356h3v1h-3zM215 357h2v1h-2zM217 358h2v1h-2zM219 359h3v1h-3zM222 360h2v1h-2zM224 361h2v1h-2zM226 362h3v1h-3zM229 363h2v1h-2zM231 364h2v1h-2zM233 365h3v1h-3zM236 366h2v1h-2zM238 367h2v1h-2zM240 368h3v1h-3zM243 369h2v1h-2zM245 370h2v1h-2zM247 371h3v1h-3zM250 372h2v1h-2zM252 373h2v1h-2zM254 374h3v1h-3zM257 375h2v1h-2zM259 376h2v1h-2zM261 377h2v1h-2zM262 377h3v1h-3zM265 378h4v1h-4zM269 379h4v1h-4zM273 380h4v1h-4zM277 381h4v1h-4zM281 382h4v1h-4zM285 383h4v1h-4zM289 384h4v1h-4zM293 385h4v1h-4zM297 386h4v1h-4zM301 387h4v1h-4zM305 388h4v1h-4zM309 389h4v1h-4zM313 390h4v1h-4zM317 391h4v1h-4zM321 392h4v1h-4zM325 393h4v1h-4zM329 394h4v1h-4zM333 395h4v1h-4zM337 396h4v1h-4zM341 397h4v1h-4zM345 398h3v1h-3zM347 398h2v1h-2zM349 397h4v1h-4zM353 396h4v1h-4zM357 395h4v1h-4zM361 394h4v1h-4zM365 393h4v1h-4zM369 392h4v1h-4zM373 391h4v1h-4zM377 390h4v1h-4zM381 389h4v1h-4zM385 388h4v1h-4zM389 387h4v1h-4zM393 386h4v1h-4zM397 385h4v1h-4zM401 384h4v1h-4zM405 383h4v1h-4zM409 382h4v1h-4zM413 381h4v1h-4zM417 380h4v1h-4zM421 379h4v1h-4zM425 378h4v1h-4zM429 377h2v1h-2zM430 377h2v1h-2zM432 376h2v1h-2zM434 375h3v1h-3zM437 374h2v1h-2zM439 373h3v1h-3zM442 372h3v1h-3zM445 371h2v1h-2zM447 370h3v1h-3zM450 369h2v1h-2zM452 368h3v1h-3zM455 367h2v1h-2zM457 366h3v1h-3zM460 365h2v1h-2zM462 364h3v1h-3zM465 363h2v1h-2zM467 362h3v1h-3zM470 361h3v1h-3zM473 360h2v1h-2zM475 359h3v1h-3zM478 358h2v1h-2zM480 357h3v1h-3zM483 356h2v1h-2zM485 355h3v1h-3zM488 354h2v1h-2zM490 353h3v1h-3zM493 352h2v1h-2zM495 351h3v1h-3zM498 350h3v1h-3zM501 349h2v1h-2zM503 348h3v1h-3zM506 347h2v1h-2zM508 346h3v1h-3zM511 345h2v1h-2zM513 344h2v1h-2zM514 344h1v1h-1zM515 343h2v1h-2zM517 342h2v1h-2zM519 341h1v1h-1zM520 340h2v1h-2zM522 339h2v1h-2zM524 338h1v1h-1zM525 337h2v1h-2zM527 336h2v1h-2zM529 335h1v1h-1zM530 334h2v1h-2zM532 333h2v1h-2zM534 332h2v1h-2zM536 331h1v1h-1zM537 330h2v1h-2zM539 329h2v1h-2zM541 328h1v1h-1zM542 327h2v1h-2zM544 326h2v1h-2zM546 325h1v1h-1zM547 324h2v1h-2zM549 323h2v1h-2zM551 322h1v1h-1zM552 321h2v1h-2zM554 320h2v1h-2zM556 319h1v1h-1zM557 318h2v1h-2zM559 317h2v1h-2zM561 316h1v1h-1zM562 315h2v1h-2zM564 314h2v1h-2zM566 313h1v1h-1zM567 312h2v1h-2zM569 311h2v1h-2zM571 310h1v1h-1zM572 309h2v1h-2zM574 308h2v1h-2zM576 307h2v1h-2zM578 306h1v1h-1zM579 305h2v1h-2zM581 304h2v1h-2zM583 303h1v1h-1zM584 302h2v1h-2zM586 301h2v1h-2zM588 300h1v1h-1zM589 299h2v1h-2zM591 298h2v1h-2zM593 297h1v1h-1zM594 296h2v1h-2zM596 295h2v1h-2zM598 294h1v1h-1z" fill="#cc0000"/><rect x="89" y="281" width="11" height="9" fill="#cc0000"/><rect x="91" y="282" width="1" height="1" fill="#990000"/><rect x="93" y="282" width="1" height="1" fill="#990000"/><rect x="95" y="282" width="1" height="1" fill="#990000"/><rect x="97" y="282" width="1" height="1" fill="#990000"/><rect x="91" y="284" width="1" height="1" fill="#990000"/><rect x="93" y="284" width="1" height="1" fill="#990000"/><rect x="95" y="284" width="1" height="1" fill="#990000"/><rect x="97" y="284" width="1" height="1" fill="#990000"/><rect x="91" y="286" width="1" height="1" fill="#990000"/><rect x="93" y="286" width="1" height="1" fill="#990000"/><rect x="95" y="286" width="1" height="1" fill="#990000"/><rect x="97" y="286" width="1" height="1" fill="#990000"/><rect x="91" y="288" width="1" height="1" fill="#990000"/><rect x="93" y="288" width="1" height="1" fill="#990000"/><rect x="95" y="288" width="1" height="1" fill="#990000"/><rect x="97" y="288" width="1" height="1" fill="#990000"/><rect x="173" y="337" width="11" height="8" fill="#cc0000"/><rect x="175" y="338" width="1" height="1" fill="#990000"/><rect x="177" y="338" width="1" height="1" fill="#990000"/><rect x="179" y="338" width="1" height="1" fill="#990000"/><rect x="181" y="338" width="1" height="1" fill="#990000"/><rect x="175" y="340" width="1" height="1" fill="#990000"/><rect x="177" y="340" width="1" height="1" fill="#990000"/><rect x="179" y="340" width="1" height="1" fill="#990000"/><rect x="181" y="340" width="1" height="1" fill="#990000"/><rect x="175" y="342" width="1" height="1" fill="#990000"/><rect x="177" y="342" width="1" height="1" fill="#990000"/><rect x="179" y="342" width="1" height="1" fill="#990000"/><rect x="181" y="342" width="1" height="1" fill="#990000"/><rect x="257" y="373" width="11" height="9" fill="#cc0000"/><rect x="259" y="374" width="1" height="1" fill="#990000"/><rect x="261" y="374" width="1" height="1" fill="#990000"/><rect x="263" y="374" width="1" height="1" fill="#990000"/><rect x="265" y="374" width="1" height="1" fill="#990000"/><rect x="259" y="376" width="1" height="1" fill="#990000"/><rect x="261" y="376" width="1" height="1" fill="#990000"/><rect x="263" y="376" width="1" height="1" fill="#990000"/><rect x="265" y="376" width="1" height="1" fill="#990000"/><rect x="259" y="378" width="1" height="1" fill="#990000"/><rect x="261" y="378" width="1" height="1" fill="#990000"/><rect x="263" y="378" width="1" height="1" fill="#990000"/><rect x="265" y="378" width="1" height="1" fill="#990000"/><rect x="259" y="380" width="1" height="1" fill="#990000"/><rect x="261" y="380" width="1" height="1" fill="#990000"/><rect x="263" y="380" width="1" height="1" fill="#990000"/><rect x="265" y="380" width="1" height="1" fill="#990000"/><rect x="341" y="393" width="11" height="9" fill="#cc0000"/><rect x="343" y="394" width="1" height="1" fill="#990000"/><rect x="345" y="394" width="1" height="1" fill="#990000"/><rect x="347" y="394" width="1" height="1" fill="#990000"/><rect x="349" y="394" width="1" height="1" fill="#990000"/><rect x="343" y="396" width="1" height="1" fill="#990000"/><rect x="345" y="396" width="1" height="1" fill="#990000"/><rect x="347" y="396" width="1" height="1" fill="#990000"/><rect x="349" y="396" width="1" height="1" fill="#990000"/><rect x="343" y="398" width="1" height="1" fill="#990000"/><rect x="345" y="398" width="1" height="1" fill="#990000"/><rect x="347" y="398" width="1" height="1" fill="#990000"/><rect x="349" y="398" width="1" height="1" fill="#990000"/><rect x="343" y="400" width="1" height="1" fill="#990000"/><rect x="345" y="400" width="1" height="1" fill="#990000"/><rect x="347" y="400" width="1" height="1" fill="#990000"/><rect x="349" y="400" width="1" height="1" fill="#990000"/><rect x="425" y="373" width="11" height="9" fill="#cc0000"/><rect x="427" y="374" width="1" height="1" fill="#990000"/><rect x="429" y="374" width="1" height="1" fill="#990000"/><rect x="431" y="374" width="1" height="1" fill="#990000"/><rect x="433" y="374" width="1" height="1" fill="#990000"/><rect x="427" y="376" width="1" height="1" fill="#990000"/><rect x="429" y="376" width="1" height="1" fill="#990000"/><rect x="431" y="376" width="1" height="1" fill="#990000"/><rect x="433" y="376" width="1" height="1" fill="#990000"/><rect x="427" y="378" width="1" height="1" fill="#990000"/><rect x="429" y="378" width="1" height="1" fill="#990000"/><rect x="431" y="378" width="1" height="1" fill="#990000"/><rect x="433" y="378" width="1" height="1" fill="#990000"/><rect x="427" y="380" width="1" height="1" fill="#990000"/><rect x="429" y="380" width="1" height="1" fill="#990000"/><rect x="431" y="380" width="1" height="1" fill="#990000"/><rect x="433" y="380" width="1" height="1" fill="#990000"/><rect x="509" y="340" width="11" height="9" fill="#cc0000"/><rect x="511" y="342" width="1" height="1" fill="#990000"/><rect x="513" y="342" width="1" height="1" fill="#990000"/><rect x="515" y="342" width="1" height="1" fill="#990000"/><rect x="517" y="342" width="1" height="1" fill="#990000"/><rect x="511" y="344" width="1" height="1" fill="#990000"/><rect x="513" y="344" width="1" height="1" fill="#990000"/><rect x="515" y="344" width="1" height="1" fill="#990000"/><rect x="517" y="344" width="1" height="1" fill="#990000"/><rect x="511" y="346" width="1" height="1" fill="#990000"/><rect x="513" y="346" width="1" height="1" fill="#990000"/><rect x="515" y="346" width="1" height="1" fill="#990000"/><rect x="517" y="346" width="1" height="1" fill="#990000"/><rect x="592" y="290" width="12" height="9" fill="#cc0000"/><rect x="593" y="292" width="1" height="1" fill="#990000"/><rect x="595" y="292" width="1" height="1" fill="#990000"/><rect x="597" y="292" width="1" height="1" fill="#990000"/><rect x="599" y="292" width="1" height="1" fill="#990000"/><rect x="601" y="292" width="1" height="1" fill="#990000"/><rect x="593" y="294" width="1" height="1" fill="#990000"/><rect x="595" y="294" width="1" height="1" fill="#990000"/><rect x="597" y="294" width="1" height="1" fill="#990000"/><rect x="599" y="294" width="1" height="1" fill="#990000"/><rect x="601" y="294" width="1" height="1" fill="#990000"/><rect x="593" y="296" width="1" height="1" fill="#990000"/><rect x="595" y="296" width="1" height="1" fill="#990000"/><rect x="597" y="296" width="1" height="1" fill="#990000"/><rect x="599" y="296" width="1" height="1" fill="#990000"/><rect x="601" y="296" width="1" height="1" fill="#990000"/><rect x="96.5" y="476.5" width="500" height="46" fill="#fff" stroke="#000" stroke-width="1"/><rect x="105" y="499" width="34" height="1" fill="#ff0000"/><rect x="116" y="495" width="11" height="8" fill="#ff0000"/><rect x="187" y="499" width="33" height="1" fill="#009933"/><rect x="198" y="495" width="12" height="1" fill="#009933"/><rect x="199" y="496" width="10" height="1" fill="#009933"/><rect x="199" y="497" width="9" height="1" fill="#009933"/><rect x="200" y="498" width="8" height="1" fill="#009933"/><rect x="201" y="499" width="6" height="1" fill="#009933"/><rect x="201" y="500" width="5" height="1" fill="#009933"/><rect x="202" y="501" width="3" height="1" fill="#009933"/><rect x="202" y="502" width="2" height="1" fill="#009933"/><rect x="203" y="503" width="1" height="1" fill="#009933"/><rect x="200" y="496" width="1" height="1" fill="#006633"/><rect x="201" y="496" width="1" height="1" fill="#009966"/><rect x="202" y="496" width="1" height="1" fill="#006633"/><rect x="203" y="496" width="1" height="1" fill="#009966"/><rect x="204" y="496" width="1" height="1" fill="#006633"/><rect x="205" y="496" width="1" height="1" fill="#009966"/><rect x="206" y="496" width="1" height="1" fill="#006633"/><rect x="207" y="496" width="1" height="1" fill="#009966"/><rect x="200" y="497" width="1" height="1" fill="#009966"/><rect x="201" y="497" width="1" height="1" fill="#006633"/><rect x="202" y="497" width="1" height="1" fill="#009966"/><rect x="203" y="497" width="1" height="1" fill="#006633"/><rect x="204" y="497" width="1" height="1" fill="#009966"/><rect x="205" y="497" width="1" height="1" fill="#006633"/><rect x="206" y="497" width="1" height="1" fill="#009966"/><rect x="201" y="498" width="1" height="1" fill="#009966"/><rect x="202" y="498" width="1" height="1" fill="#006633"/><rect x="203" y="498" width="1" height="1" fill="#009966"/><rect x="204" y="498" width="1" height="1" fill="#006633"/><rect x="205" y="498" width="1" height="1" fill="#009966"/><rect x="206" y="498" width="1" height="1" fill="#006633"/><rect x="202" y="499" width="1" height="1" fill="#009966"/><rect x="203" y="499" width="1" height="1" fill="#006633"/><rect x="204" y="499" width="1" height="1" fill="#009966"/><rect x="205" y="499" width="1" height="1" fill="#006633"/><rect x="202" y="500" width="1" height="1" fill="#006633"/><rect x="203" y="500" width="1" height="1" fill="#009966"/><rect x="204" y="500" width="1" height="1" fill="#006633"/><rect x="203" y="501" width="1" height="1" fill="#006633"/><rect x="269" y="499" width="33" height="1" fill="#0000ff"/><rect x="283" y="495" width="4" height="1" fill="#0000ff"/><rect x="281" y="496" width="8" height="1" fill="#0000ff"/><rect x="280" y="497" width="10" height="1" fill="#0000ff"/><rect x="279" y="498" width="12" height="1" fill="#0000ff"/><rect x="279" y="499" width="12" height="1" fill="#0000ff"/><rect x="280" y="500" width="10" height="1" fill="#0000ff"/><rect x="281" y="501" width="8" height="1" fill="#0000ff"/><rect x="283" y="502" width="4" height="1" fill="#0000ff"/><rect x="350" y="499" width="34" height="1" fill="#808080"/><rect x="367" y="495" width="1" height="1" fill="#808080"/><rect x="366" y="496" width="3" height="1" fill="#808080"/><rect x="365" y="497" width="4" height="1" fill="#808080"/><rect x="365" y="498" width="5" height="1" fill="#808080"/><rect x="364" y="499" width="7" height="1" fill="#808080"/><rect x="363" y="500" width="8" height="1" fill="#808080"/><rect x="363" y="501" width="9" height="1" fill="#808080"/><rect x="362" y="502" width="11" height="1" fill="#808080"/><rect x="361" y="503" width="13" height="1" fill="#808080"/><rect x="432" y="499" width="34" height="1" fill="#990033"/><rect x="443" y="495" width="12" height="1" fill="#990033"/><rect x="444" y="496" width="10" height="1" fill="#990033"/><rect x="446" y="497" width="7" height="1" fill="#990033"/><rect x="447" y="498" width="4" height="1" fill="#990033"/><rect x="447" y="499" width="4" height="1" fill="#990033"/><rect x="447" y="500" width="4" height="1" fill="#990033"/><rect x="446" y="501" width="7" height="1" fill="#990033"/><rect x="444" y="502" width="10" height="1" fill="#990033"/><rect x="443" y="503" width="12" height="1" fill="#990033"/><rect x="445" y="496" width="1" height="1" fill="#990066"/><rect x="446" y="496" width="1" height="1" fill="#660033"/><rect x="447" y="496" width="1" height="1" fill="#990066"/><rect x="448" y="496" width="1" height="1" fill="#660033"/><rect x="449" y="496" width="1" height="1" fill="#990066"/><rect x="450" y="496" width="1" height="1" fill="#660033"/><rect x="451" y="496" width="1" height="1" fill="#990066"/><rect x="452" y="496" width="1" height="1" fill="#660033"/><rect x="447" y="497" width="1" height="1" fill="#660033"/><rect x="449" y="497" width="1" height="1" fill="#660033"/><rect x="451" y="497" width="1" height="1" fill="#660033"/><rect x="447" y="501" width="1" height="1" fill="#660033"/><rect x="449" y="501" width="1" height="1" fill="#660033"/><rect x="451" y="501" width="1" height="1" fill="#660033"/><rect x="445" y="502" width="1" height="1" fill="#990066"/><rect x="446" y="502" width="1" height="1" fill="#660033"/><rect x="447" y="502" width="1" height="1" fill="#990066"/><rect x="448" y="502" width="1" height="1" fill="#660033"/><rect x="449" y="502" width="1" height="1" fill="#990066"/><rect x="450" y="502" width="1" height="1" fill="#660033"/><rect x="451" y="502" width="1" height="1" fill="#990066"/><rect x="452" y="502" width="1" height="1" fill="#660033"/><rect x="514" y="499" width="34" height="1" fill="#cc0000"/><rect x="525" y="495" width="11" height="8" fill="#cc0000"/><rect x="527" y="496" width="1" height="1" fill="#990000"/><rect x="529" y="496" width="1" height="1" fill="#990000"/><rect x="531" y="496" width="1" height="1" fill="#990000"/><rect x="533" y="496" width="1" height="1" fill="#990000"/><rect x="527" y="498" width="1" height="1" fill="#990000"/><rect x="529" y="498" width="1" height="1" fill="#990000"/><rect x="531" y="498" width="1" height="1" fill="#990000"/><rect x="533" y="498" width="1" height="1" fill="#990000"/><rect x="527" y="500" width="1" height="1" fill="#990000"/><rect x="529" y="500" width="1" height="1" fill="#990000"/><rect x="531" y="500" width="1" height="1" fill="#990000"/><rect x="533" y="500" width="1" height="1" fill="#990000"/></svg>
<div class="t title" id="t1" style="top:3.5px;left:-0.5px;"><span style="letter-spacing:-0.15px;">Q vs SWR:  </span><span style="letter-spacing:0.2px;">Center-Loaded Dipole</span></div>
<div class="t title" id="t2" style="top:35.5px;left:0px;"><span style="letter-spacing:-0.05px;">7-7.3 MHz, #8 </span><span style="letter-spacing:0.37px;">Lossless, L=1/4 WL</span></div>
<div class="t tick xt" style="left:63.5px;">7</div>
<div class="t tick xt" style="left:147.5px;">7.05</div>
<div class="t tick xt" style="left:231.5px;">7.1</div>
<div class="t tick xt" style="left:316.5px;">7.15</div>
<div class="t tick xt" style="left:399.5px;">7.2</div>
<div class="t tick xt" style="left:483.5px;">7.25</div>
<div class="t tick xt" style="left:567.5px;">7.3</div>
<div class="t tick yt" style="top:411.3px;left:10.3px;">0</div>
<div class="t tick yt" style="top:371.3px;left:10.3px;">2</div>
<div class="t tick yt" style="top:331.3px;left:10.3px;">4</div>
<div class="t tick yt" style="top:290.3px;left:10.3px;">6</div>
<div class="t tick yt" style="top:250.3px;left:10.3px;">8</div>
<div class="t tick yt" style="top:210.3px;left:11px;">10</div>
<div class="t tick yt" style="top:170.3px;left:11px;">12</div>
<div class="t tick yt" style="top:130.3px;left:11px;">14</div>
<div class="t tick yt" style="top:90.3px;left:11px;">16</div>
<div class="t" id="xtitle" style="filter:url(#th5);font-size:18px;font-weight:bold;letter-spacing:-0.42px;left:247px;width:200px;text-align:center;top:441.6px;">Frequency in MHz</div>
<div class="t" id="ytitle" style="filter:url(#th);font-size:18px;font-weight:bold;letter-spacing:-0.27px;left:11.5px;top:256.9px;transform:translate(-50%,-50%) rotate(-90deg);">SWR Relative to Z at 7.15 MHz</div>
<div class="t lg" style="left:147px;">Inf.</div>
<div class="t lg" style="left:230px;">1000</div>
<div class="t lg" style="left:310.5px;">750</div>
<div class="t lg" style="left:393px;">500</div>
<div class="t lg" style="left:474px;">250</div>
<div class="t lg" style="left:557px;">100</div>
<div class="t" id="q" style="filter:url(#th5);font-size:15px;font-weight:bold;left:342.5px;top:503px;">Q</div>
</body></html>
